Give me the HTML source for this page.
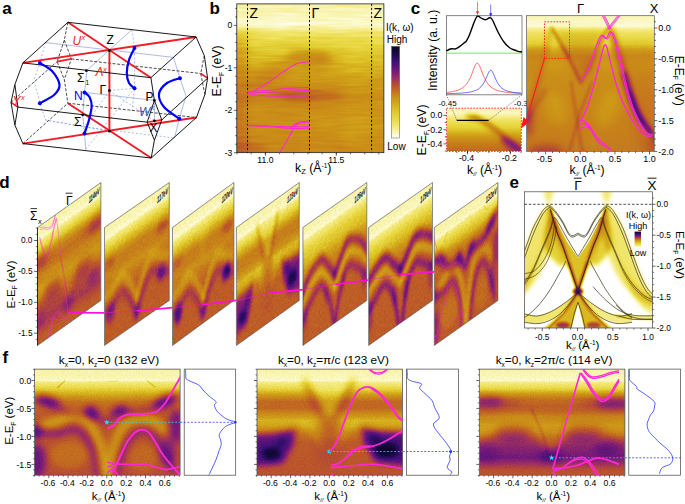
<!DOCTYPE html>
<html><head><meta charset="utf-8"><title>Figure</title>
<style>html,body{margin:0;padding:0;background:#fff;overflow:hidden}svg{display:block;font-family:'Liberation Sans', sans-serif}</style>
</head><body>
<svg width="685" height="504" viewBox="0 0 685 504">
<rect width="685" height="504" fill="#fff"/>
<defs>
<filter id="cmb" color-interpolation-filters="sRGB" filterUnits="userSpaceOnUse" x="0" y="0" width="685" height="504"><feTurbulence type="fractalNoise" baseFrequency="0.03 0.35" numOctaves="2" seed="3" result="n"/><feColorMatrix in="n" type="matrix" values="1 0 0 0 0 1 0 0 0 0 1 0 0 0 0 0 0 0 0 1" result="n2"/><feComposite in="SourceGraphic" in2="n2" operator="arithmetic" k1="0" k2="1" k3="0.09" k4="-0.045" result="s2"/><feComposite in="s2" in2="SourceGraphic" operator="in" result="s3"/><feComponentTransfer in="s3"><feFuncR type="table" tableValues="0.031 0.041 0.050 0.059 0.068 0.077 0.087 0.102 0.122 0.144 0.166 0.187 0.212 0.239 0.269 0.300 0.331 0.362 0.393 0.424 0.456 0.487 0.517 0.548 0.578 0.606 0.630 0.653 0.676 0.698 0.714 0.725 0.734 0.743 0.751 0.760 0.767 0.773 0.778 0.784 0.790 0.795 0.800 0.808 0.816 0.825 0.835 0.846 0.858 0.870 0.882 0.894 0.907 0.918 0.928 0.938 0.947 0.955 0.963 0.971 0.979 0.984 0.990 0.995 1.000"/><feFuncG type="table" tableValues="0.024 0.026 0.028 0.030 0.033 0.035 0.037 0.040 0.043 0.047 0.050 0.053 0.057 0.061 0.066 0.071 0.077 0.083 0.088 0.094 0.099 0.112 0.130 0.148 0.167 0.183 0.201 0.224 0.249 0.273 0.297 0.321 0.344 0.367 0.391 0.415 0.442 0.466 0.490 0.515 0.538 0.557 0.572 0.595 0.622 0.649 0.676 0.706 0.735 0.764 0.790 0.812 0.834 0.853 0.869 0.885 0.899 0.914 0.930 0.945 0.961 0.972 0.982 0.991 1.000"/><feFuncB type="table" tableValues="0.141 0.161 0.180 0.200 0.219 0.239 0.260 0.284 0.311 0.339 0.367 0.396 0.427 0.459 0.477 0.478 0.478 0.478 0.478 0.478 0.478 0.467 0.446 0.424 0.403 0.384 0.357 0.317 0.272 0.227 0.197 0.179 0.166 0.153 0.140 0.128 0.119 0.114 0.108 0.102 0.097 0.095 0.096 0.097 0.099 0.102 0.108 0.123 0.139 0.158 0.184 0.213 0.242 0.282 0.332 0.383 0.429 0.490 0.556 0.623 0.690 0.769 0.847 0.923 1.000"/></feComponentTransfer></filter><filter id="cm" color-interpolation-filters="sRGB" filterUnits="userSpaceOnUse" x="0" y="0" width="685" height="504"><feTurbulence type="fractalNoise" baseFrequency="0.8" numOctaves="2" seed="3" result="n"/><feColorMatrix in="n" type="matrix" values="1 0 0 0 0 1 0 0 0 0 1 0 0 0 0 0 0 0 0 1" result="n2"/><feComposite in="SourceGraphic" in2="n2" operator="arithmetic" k1="0" k2="1" k3="0.03" k4="-0.015" result="s2"/><feComposite in="s2" in2="SourceGraphic" operator="in" result="s3"/><feComponentTransfer in="s3"><feFuncR type="table" tableValues="0.031 0.041 0.050 0.059 0.068 0.077 0.087 0.102 0.122 0.144 0.166 0.187 0.212 0.239 0.269 0.300 0.331 0.362 0.393 0.424 0.456 0.487 0.517 0.548 0.578 0.606 0.630 0.653 0.676 0.698 0.714 0.725 0.734 0.743 0.751 0.760 0.767 0.773 0.778 0.784 0.790 0.795 0.800 0.808 0.816 0.825 0.835 0.846 0.858 0.870 0.882 0.894 0.907 0.918 0.928 0.938 0.947 0.955 0.963 0.971 0.979 0.984 0.990 0.995 1.000"/><feFuncG type="table" tableValues="0.024 0.026 0.028 0.030 0.033 0.035 0.037 0.040 0.043 0.047 0.050 0.053 0.057 0.061 0.066 0.071 0.077 0.083 0.088 0.094 0.099 0.112 0.130 0.148 0.167 0.183 0.201 0.224 0.249 0.273 0.297 0.321 0.344 0.367 0.391 0.415 0.442 0.466 0.490 0.515 0.538 0.557 0.572 0.595 0.622 0.649 0.676 0.706 0.735 0.764 0.790 0.812 0.834 0.853 0.869 0.885 0.899 0.914 0.930 0.945 0.961 0.972 0.982 0.991 1.000"/><feFuncB type="table" tableValues="0.141 0.161 0.180 0.200 0.219 0.239 0.260 0.284 0.311 0.339 0.367 0.396 0.427 0.459 0.477 0.478 0.478 0.478 0.478 0.478 0.478 0.467 0.446 0.424 0.403 0.384 0.357 0.317 0.272 0.227 0.197 0.179 0.166 0.153 0.140 0.128 0.119 0.114 0.108 0.102 0.097 0.095 0.096 0.097 0.099 0.102 0.108 0.123 0.139 0.158 0.184 0.213 0.242 0.282 0.332 0.383 0.429 0.490 0.556 0.623 0.690 0.769 0.847 0.923 1.000"/></feComponentTransfer></filter><filter id="cmn" color-interpolation-filters="sRGB" filterUnits="userSpaceOnUse" x="0" y="0" width="685" height="504"><feTurbulence type="fractalNoise" baseFrequency="0.8" numOctaves="2" seed="3" result="n"/><feColorMatrix in="n" type="matrix" values="1 0 0 0 0 1 0 0 0 0 1 0 0 0 0 0 0 0 0 1" result="n2"/><feComposite in="SourceGraphic" in2="n2" operator="arithmetic" k1="0" k2="1" k3="0.1" k4="-0.05" result="s2"/><feComposite in="s2" in2="SourceGraphic" operator="in" result="s3"/><feComponentTransfer in="s3"><feFuncR type="table" tableValues="0.031 0.041 0.050 0.059 0.068 0.077 0.087 0.102 0.122 0.144 0.166 0.187 0.212 0.239 0.269 0.300 0.331 0.362 0.393 0.424 0.456 0.487 0.517 0.548 0.578 0.606 0.630 0.653 0.676 0.698 0.714 0.725 0.734 0.743 0.751 0.760 0.767 0.773 0.778 0.784 0.790 0.795 0.800 0.808 0.816 0.825 0.835 0.846 0.858 0.870 0.882 0.894 0.907 0.918 0.928 0.938 0.947 0.955 0.963 0.971 0.979 0.984 0.990 0.995 1.000"/><feFuncG type="table" tableValues="0.024 0.026 0.028 0.030 0.033 0.035 0.037 0.040 0.043 0.047 0.050 0.053 0.057 0.061 0.066 0.071 0.077 0.083 0.088 0.094 0.099 0.112 0.130 0.148 0.167 0.183 0.201 0.224 0.249 0.273 0.297 0.321 0.344 0.367 0.391 0.415 0.442 0.466 0.490 0.515 0.538 0.557 0.572 0.595 0.622 0.649 0.676 0.706 0.735 0.764 0.790 0.812 0.834 0.853 0.869 0.885 0.899 0.914 0.930 0.945 0.961 0.972 0.982 0.991 1.000"/><feFuncB type="table" tableValues="0.141 0.161 0.180 0.200 0.219 0.239 0.260 0.284 0.311 0.339 0.367 0.396 0.427 0.459 0.477 0.478 0.478 0.478 0.478 0.478 0.478 0.467 0.446 0.424 0.403 0.384 0.357 0.317 0.272 0.227 0.197 0.179 0.166 0.153 0.140 0.128 0.119 0.114 0.108 0.102 0.097 0.095 0.096 0.097 0.099 0.102 0.108 0.123 0.139 0.158 0.184 0.213 0.242 0.282 0.332 0.383 0.429 0.490 0.556 0.623 0.690 0.769 0.847 0.923 1.000"/></feComponentTransfer></filter><filter id="b0_6" filterUnits="userSpaceOnUse" x="-100" y="-100" width="900" height="750" color-interpolation-filters="sRGB"><feGaussianBlur stdDeviation="0.6"/></filter><filter id="b1" filterUnits="userSpaceOnUse" x="-100" y="-100" width="900" height="750" color-interpolation-filters="sRGB"><feGaussianBlur stdDeviation="1"/></filter><filter id="b1_5" filterUnits="userSpaceOnUse" x="-100" y="-100" width="900" height="750" color-interpolation-filters="sRGB"><feGaussianBlur stdDeviation="1.5"/></filter><filter id="b2" filterUnits="userSpaceOnUse" x="-100" y="-100" width="900" height="750" color-interpolation-filters="sRGB"><feGaussianBlur stdDeviation="2"/></filter><filter id="b2_5" filterUnits="userSpaceOnUse" x="-100" y="-100" width="900" height="750" color-interpolation-filters="sRGB"><feGaussianBlur stdDeviation="2.5"/></filter><filter id="b3" filterUnits="userSpaceOnUse" x="-100" y="-100" width="900" height="750" color-interpolation-filters="sRGB"><feGaussianBlur stdDeviation="3"/></filter><filter id="b3_5" filterUnits="userSpaceOnUse" x="-100" y="-100" width="900" height="750" color-interpolation-filters="sRGB"><feGaussianBlur stdDeviation="3.5"/></filter><filter id="b4" filterUnits="userSpaceOnUse" x="-100" y="-100" width="900" height="750" color-interpolation-filters="sRGB"><feGaussianBlur stdDeviation="4"/></filter><filter id="b5" filterUnits="userSpaceOnUse" x="-100" y="-100" width="900" height="750" color-interpolation-filters="sRGB"><feGaussianBlur stdDeviation="5"/></filter><filter id="b6" filterUnits="userSpaceOnUse" x="-100" y="-100" width="900" height="750" color-interpolation-filters="sRGB"><feGaussianBlur stdDeviation="6"/></filter><filter id="b8" filterUnits="userSpaceOnUse" x="-100" y="-100" width="900" height="750" color-interpolation-filters="sRGB"><feGaussianBlur stdDeviation="8"/></filter><filter id="b10" filterUnits="userSpaceOnUse" x="-100" y="-100" width="900" height="750" color-interpolation-filters="sRGB"><feGaussianBlur stdDeviation="10"/></filter><filter id="b14" filterUnits="userSpaceOnUse" x="-100" y="-100" width="900" height="750" color-interpolation-filters="sRGB"><feGaussianBlur stdDeviation="14"/></filter><linearGradient id="gb" x1="0" y1="0" x2="0" y2="1"><stop offset="0.000" stop-color="#ededed"/><stop offset="0.100" stop-color="#f2f2f2"/><stop offset="0.135" stop-color="#f6f6f6"/><stop offset="0.160" stop-color="#ededed"/><stop offset="0.200" stop-color="#dbdbdb"/><stop offset="0.270" stop-color="#cfcfcf"/><stop offset="0.400" stop-color="#bababa"/><stop offset="0.500" stop-color="#ababab"/><stop offset="0.580" stop-color="#a6a6a6"/><stop offset="0.620" stop-color="#9c9c9c"/><stop offset="0.660" stop-color="#a3a3a3"/><stop offset="0.800" stop-color="#a6a6a6"/><stop offset="1.000" stop-color="#9e9e9e"/></linearGradient><linearGradient id="cbg" x1="0" y1="0" x2="0" y2="1"><stop offset="0.00" stop-color="#080624"/><stop offset="0.05" stop-color="#120939"/><stop offset="0.10" stop-color="#210b52"/><stop offset="0.15" stop-color="#370f6e"/><stop offset="0.20" stop-color="#4f137a"/><stop offset="0.25" stop-color="#69177a"/><stop offset="0.30" stop-color="#822073"/><stop offset="0.35" stop-color="#9b2f62"/><stop offset="0.40" stop-color="#b2453b"/><stop offset="0.45" stop-color="#bd5c28"/><stop offset="0.50" stop-color="#c5751d"/><stop offset="0.55" stop-color="#cb8f18"/><stop offset="0.60" stop-color="#d1a019"/><stop offset="0.65" stop-color="#d7b11e"/><stop offset="0.70" stop-color="#dec428"/><stop offset="0.75" stop-color="#e4d037"/><stop offset="0.80" stop-color="#ebda4a"/><stop offset="0.85" stop-color="#f0e365"/><stop offset="0.90" stop-color="#f5ed8d"/><stop offset="0.95" stop-color="#fbf8c0"/><stop offset="1.00" stop-color="#ffffff"/></linearGradient><clipPath id="cl_b"><rect x="236.8" y="3.9" width="147.1" height="148.8" fill="none" /></clipPath>
<clipPath id="cl_cin"><rect x="446.4" y="15.7" width="75.60000000000002" height="79.1"/></clipPath><linearGradient id="gci" x1="0" y1="0" x2="0" y2="1"><stop offset="0.000" stop-color="#f0f0f0"/><stop offset="0.120" stop-color="#f2f2f2"/><stop offset="0.190" stop-color="#e8e8e8"/><stop offset="0.280" stop-color="#dbdbdb"/><stop offset="0.450" stop-color="#cccccc"/><stop offset="0.620" stop-color="#b2b2b2"/><stop offset="0.800" stop-color="#999999"/><stop offset="1.000" stop-color="#8a8a8a"/></linearGradient><clipPath id="cl_ci"><rect x="446.4" y="108.2" width="75.0" height="43.2" fill="none" /></clipPath><linearGradient id="gcr" x1="0" y1="0" x2="0" y2="1"><stop offset="0.000" stop-color="#f0f0f0"/><stop offset="0.046" stop-color="#f4f4f4"/><stop offset="0.076" stop-color="#f7f7f7"/><stop offset="0.098" stop-color="#e8e8e8"/><stop offset="0.127" stop-color="#dbdbdb"/><stop offset="0.209" stop-color="#d1d1d1"/><stop offset="0.253" stop-color="#b8b8b8"/><stop offset="0.297" stop-color="#a8a8a8"/><stop offset="0.356" stop-color="#adadad"/><stop offset="0.474" stop-color="#a3a3a3"/><stop offset="0.621" stop-color="#9e9e9e"/><stop offset="1.000" stop-color="#969696"/></linearGradient><clipPath id="cl_cr"><rect x="526.6" y="15.7" width="127.7" height="135.7" fill="none" /></clipPath>
<linearGradient id="gi132" x1="0" y1="0" x2="0" y2="1"><stop offset="0.000" stop-color="#ededed"/><stop offset="0.084" stop-color="#f0f0f0"/><stop offset="0.105" stop-color="#f4f4f4"/><stop offset="0.126" stop-color="#e3e3e3"/><stop offset="0.169" stop-color="#d5d5d5"/><stop offset="0.237" stop-color="#b6b6b6"/><stop offset="0.305" stop-color="#8f8f8f"/><stop offset="0.421" stop-color="#828282"/><stop offset="0.632" stop-color="#7d7d7d"/><stop offset="1.001" stop-color="#787878"/></linearGradient><clipPath id="cl_i132"><rect x="0.0" y="0.0" width="145.6" height="106.2" fill="none" /></clipPath><g id="img132"><g clip-path="url(#cl_i132)"><g filter="url(#cmn)"><rect x="0" y="0" width="145.6" height="106.15" fill="url(#gi132)"/><g filter="url(#b3)"><path d="M4.6,57.1 C7.3,56.4 15.7,54.5 20.6,53.0 C25.6,51.5 30.1,48.8 34.3,48.0 C38.5,47.1 42.3,46.9 45.7,48.0 C49.2,49.0 52.2,51.0 54.9,54.1 C57.5,57.2 59.8,61.9 61.7,66.7 C63.6,71.4 65.1,76.2 66.3,82.7 C67.5,89.1 68.6,101.7 69.0,105.5" fill="none" stroke="#fff" stroke-opacity="0.368" stroke-width="9" stroke-linecap="round" stroke-linejoin="round"/><path d="M75.9,105.5 C76.4,101.7 77.4,89.5 78.8,82.7 C80.3,75.8 82.1,69.3 84.5,64.4 C87.0,59.4 90.2,55.5 93.7,53.0 C97.1,50.5 100.9,49.7 105.1,49.6 C109.3,49.4 114.8,50.1 118.8,51.8 C122.8,53.5 127.3,58.5 129.1,59.8" fill="none" stroke="#fff" stroke-opacity="0.336" stroke-width="9" stroke-linecap="round" stroke-linejoin="round"/><ellipse cx="34.3" cy="86.1" rx="19.4" ry="13.7" fill="#fff" fill-opacity="0.144"/><ellipse cx="108.5" cy="89.5" rx="14.8" ry="14.8" fill="#fff" fill-opacity="0.112"/><ellipse cx="72.0" cy="87.2" rx="3.2" ry="20.5" fill="#fff" fill-opacity="0.160"/><ellipse cx="72.0" cy="30.1" rx="27.4" ry="6.4" fill="#fff" fill-opacity="0.064"/></g><g filter="url(#b3)"><path d="M0.1,30.1 C2.3,30.5 9.6,30.9 13.8,32.4 C18.0,34.0 21.4,37.3 25.2,39.3 C29.0,41.3 32.8,43.6 36.6,44.5 C40.4,45.5 44.6,45.1 48.0,45.0 C51.4,44.9 54.5,43.1 57.1,43.8 C59.8,44.6 61.5,48.0 64.0,49.6 C66.5,51.2 69.5,53.8 72.0,53.4 C74.5,53.1 76.6,49.2 78.8,47.3 C81.1,45.3 82.4,42.3 85.7,41.6 C88.9,40.8 93.5,42.9 98.2,42.7 C103.0,42.5 108.9,42.1 114.2,40.4 C119.5,38.7 125.0,34.9 130.2,32.4 C135.4,30.0 143.0,26.7 145.5,25.6" fill="none" stroke="#000" stroke-opacity="0.22" stroke-width="7" stroke-linecap="round" stroke-linejoin="round"/><path d="M0.1,62.1 C3.9,62.5 16.4,64.8 22.9,64.4 C29.4,64.0 34.3,59.4 38.9,59.8 C43.4,60.2 46.9,62.9 50.3,66.7 C53.7,70.5 57.1,76.0 59.4,82.7 C61.7,89.3 63.2,102.6 64.0,106.6" fill="none" stroke="#000" stroke-opacity="0.3" stroke-width="7" stroke-linecap="round" stroke-linejoin="round"/><path d="M81.8,106.6 C82.6,103.4 84.5,93.5 86.8,87.2 C89.2,80.9 92.5,73.1 96.0,69.0 C99.4,64.8 103.6,62.5 107.4,62.1 C111.2,61.7 115.0,63.3 118.8,66.7 C122.6,70.1 127.0,77.0 130.2,82.7 C133.4,88.4 136.9,97.9 138.2,100.9" fill="none" stroke="#000" stroke-opacity="0.26" stroke-width="7" stroke-linecap="round" stroke-linejoin="round"/></g><g filter="url(#b3_5)"><ellipse cx="13.3" cy="32.4" rx="12.6" ry="5.9" fill="#000" fill-opacity="0.420" transform="rotate(18 13.3 32.4)"/><ellipse cx="57.1" cy="43.8" rx="6.4" ry="8.2" fill="#000" fill-opacity="0.420" transform="rotate(-30 57.1 43.8)"/><ellipse cx="85.7" cy="41.6" rx="8.2" ry="5.9" fill="#000" fill-opacity="0.360" transform="rotate(-15 85.7 41.6)"/><ellipse cx="130.7" cy="32.4" rx="12.6" ry="6.4" fill="#000" fill-opacity="0.420" transform="rotate(-25 130.7 32.4)"/><ellipse cx="1.9" cy="61.0" rx="6.4" ry="8.7" fill="#000" fill-opacity="0.400"/><ellipse cx="2.3" cy="91.8" rx="8.7" ry="17.1" fill="#000" fill-opacity="0.380"/><ellipse cx="141.6" cy="56.4" rx="6.8" ry="17.1" fill="#000" fill-opacity="0.380"/><ellipse cx="133.2" cy="82.7" rx="8.2" ry="13.2" fill="#000" fill-opacity="0.280"/></g><g filter="url(#b0_6)"><path d="M30.2,11.9 L22.9,18.7" fill="none" stroke="#000" stroke-opacity="0.15" stroke-width="1.2" stroke-linecap="round" stroke-linejoin="round"/><path d="M113.1,11.9 L120.4,18.0" fill="none" stroke="#000" stroke-opacity="0.15" stroke-width="1.2" stroke-linecap="round" stroke-linejoin="round"/><path d="M73.1,12.3 L81.1,12.3 L83.4,11.2" fill="none" stroke="#000" stroke-opacity="0.08" stroke-width="1.0" stroke-linecap="round" stroke-linejoin="round"/></g></g></g></g><linearGradient id="gi123" x1="0" y1="0" x2="0" y2="1"><stop offset="0.000" stop-color="#ededed"/><stop offset="0.084" stop-color="#f2f2f2"/><stop offset="0.105" stop-color="#f5f5f5"/><stop offset="0.126" stop-color="#e6e6e6"/><stop offset="0.184" stop-color="#d1d1d1"/><stop offset="0.253" stop-color="#a7a7a7"/><stop offset="0.305" stop-color="#8a8a8a"/><stop offset="0.369" stop-color="#8a8a8a"/><stop offset="0.432" stop-color="#a6a6a6"/><stop offset="0.484" stop-color="#bababa"/><stop offset="0.537" stop-color="#b2b2b2"/><stop offset="0.606" stop-color="#949494"/><stop offset="0.685" stop-color="#828282"/><stop offset="1.001" stop-color="#7d7d7d"/></linearGradient><clipPath id="cl_i123"><rect x="0.0" y="0.0" width="145.6" height="106.2" fill="none" /></clipPath><g id="img123"><g clip-path="url(#cl_i123)"><g filter="url(#cmn)"><rect x="0" y="0" width="145.6" height="106.15" fill="url(#gi123)"/><g filter="url(#b3)"><polygon points="54.8,16.4 90.4,16.4 75.4,48.4 69.9,48.4" fill="#fff" fill-opacity="0.336"/><path d="M44.1,53.0 C45.8,54.1 51.1,56.2 54.4,59.8 C57.6,63.4 62.0,72.2 63.5,74.7" fill="none" stroke="#fff" stroke-opacity="0.176" stroke-width="6" stroke-linecap="round" stroke-linejoin="round"/><path d="M101.2,53.0 C99.5,54.1 94.1,56.2 90.9,59.8 C87.7,63.4 83.3,72.2 81.8,74.7" fill="none" stroke="#fff" stroke-opacity="0.176" stroke-width="6" stroke-linecap="round" stroke-linejoin="round"/></g><g filter="url(#b3)"><ellipse cx="72.6" cy="54.1" rx="10.3" ry="9.1" fill="#000" fill-opacity="0.220"/><ellipse cx="72.6" cy="80.4" rx="16.0" ry="16.0" fill="#000" fill-opacity="0.060"/><path d="M48.0,12.3 L55.5,30.1 L63.5,46.6" fill="none" stroke="#000" stroke-opacity="0.2" stroke-width="5.5" stroke-linecap="round" stroke-linejoin="round"/><path d="M95.9,12.3 L88.2,30.1 L79.9,45.7" fill="none" stroke="#000" stroke-opacity="0.2" stroke-width="5.5" stroke-linecap="round" stroke-linejoin="round"/><polygon points="-5.0,65.5 15.5,64.4 39.5,59.4 36.1,75.8 25.8,94.1 -5.0,97.5" fill="#000" fill-opacity="0.500"/><polygon points="150.3,63.3 122.9,62.1 103.4,58.0 108.0,75.8 119.4,92.9 150.3,96.4" fill="#000" fill-opacity="0.550"/></g><g filter="url(#b3)"><ellipse cx="14.4" cy="84.5" rx="9.6" ry="5.9" fill="#000" fill-opacity="0.850"/><ellipse cx="24.7" cy="73.5" rx="6.8" ry="3.7" fill="#000" fill-opacity="0.425" transform="rotate(-35 24.7 73.5)"/><ellipse cx="129.7" cy="80.8" rx="11.4" ry="6.8" fill="#000" fill-opacity="0.901"/><ellipse cx="118.3" cy="70.1" rx="7.3" ry="3.7" fill="#000" fill-opacity="0.510" transform="rotate(35 118.3 70.1)"/></g></g></g></g><linearGradient id="gi114" x1="0" y1="0" x2="0" y2="1"><stop offset="0.000" stop-color="#ededed"/><stop offset="0.084" stop-color="#f2f2f2"/><stop offset="0.105" stop-color="#f5f5f5"/><stop offset="0.126" stop-color="#e6e6e6"/><stop offset="0.184" stop-color="#d1d1d1"/><stop offset="0.237" stop-color="#a9a9a9"/><stop offset="0.290" stop-color="#828282"/><stop offset="0.342" stop-color="#787878"/><stop offset="0.395" stop-color="#858585"/><stop offset="0.448" stop-color="#9c9c9c"/><stop offset="0.527" stop-color="#a1a1a1"/><stop offset="0.590" stop-color="#8f8f8f"/><stop offset="0.658" stop-color="#707070"/><stop offset="0.737" stop-color="#5c5c5c"/><stop offset="0.832" stop-color="#4f4f4f"/><stop offset="0.895" stop-color="#666666"/><stop offset="0.948" stop-color="#7a7a7a"/><stop offset="1.001" stop-color="#808080"/></linearGradient><clipPath id="cl_i114"><rect x="0.0" y="0.0" width="145.6" height="106.2" fill="none" /></clipPath><g id="img114"><g clip-path="url(#cl_i114)"><g filter="url(#cmn)"><rect x="0" y="0" width="145.6" height="106.15" fill="url(#gi114)"/><g filter="url(#b3_5)"><polygon points="50.6,54.1 91.7,54.1 81.5,72.4 71.2,83.8 59.8,72.4" fill="#fff" fill-opacity="0.192"/><polygon points="-5.3,54.1 21.0,54.1 9.5,66.7 -5.3,72.4" fill="#fff" fill-opacity="0.240"/><polygon points="150.0,54.1 121.4,54.1 134.0,66.7 150.0,72.4" fill="#fff" fill-opacity="0.176"/><ellipse cx="70.0" cy="33.6" rx="34.2" ry="6.4" fill="#fff" fill-opacity="0.112"/><ellipse cx="40.4" cy="48.4" rx="25.1" ry="5.0" fill="#fff" fill-opacity="0.080"/></g><g filter="url(#b3_5)"><ellipse cx="9.5" cy="32.4" rx="14.8" ry="5.5" fill="#000" fill-opacity="0.300"/><ellipse cx="134.0" cy="34.3" rx="18.3" ry="5.9" fill="#000" fill-opacity="0.300"/><ellipse cx="33.5" cy="65.5" rx="16.0" ry="7.3" fill="#000" fill-opacity="0.200"/><ellipse cx="104.3" cy="65.5" rx="17.1" ry="7.3" fill="#000" fill-opacity="0.200"/><ellipse cx="71.2" cy="87.2" rx="11.4" ry="5.9" fill="#000" fill-opacity="0.300"/><ellipse cx="127.1" cy="79.2" rx="12.6" ry="6.8" fill="#000" fill-opacity="0.220"/><ellipse cx="8.4" cy="84.9" rx="11.4" ry="9.1" fill="#000" fill-opacity="0.120"/></g><g filter="url(#b1)"><path d="M51.8,39.3 C53.7,43.5 60.5,57.0 63.2,64.4 C65.9,71.8 67.4,80.6 68.2,83.8" fill="none" stroke="#000" stroke-opacity="0.2" stroke-width="1.6" stroke-linecap="round" stroke-linejoin="round"/><path d="M86.0,48.4 L78.0,69.0" fill="none" stroke="#000" stroke-opacity="0.1" stroke-width="1.6" stroke-linecap="round" stroke-linejoin="round"/></g></g></g></g><clipPath id="cl_f0"><rect x="34.5" y="369.1" width="145.6" height="106.14999999999998"/></clipPath><clipPath id="cl_f1"><rect x="257.0" y="369.1" width="145.6" height="106.14999999999998"/></clipPath><clipPath id="cl_f2"><rect x="479.3" y="369.1" width="145.6" height="106.14999999999998"/></clipPath>
<filter id="cmd" color-interpolation-filters="sRGB" filterUnits="userSpaceOnUse" x="0" y="0" width="685" height="504"><feTurbulence type="fractalNoise" baseFrequency="0.8" numOctaves="2" seed="3" result="n"/><feColorMatrix in="n" type="matrix" values="1 0 0 0 0 1 0 0 0 0 1 0 0 0 0 0 0 0 0 1" result="n2"/><feComposite in="SourceGraphic" in2="n2" operator="arithmetic" k1="0" k2="1" k3="0.16" k4="-0.08" result="s2"/><feComposite in="s2" in2="SourceGraphic" operator="in" result="s3"/><feComponentTransfer in="s3"><feFuncR type="table" tableValues="0.031 0.041 0.050 0.059 0.068 0.077 0.087 0.102 0.122 0.144 0.166 0.187 0.212 0.239 0.269 0.300 0.331 0.362 0.393 0.424 0.456 0.487 0.517 0.548 0.578 0.606 0.630 0.653 0.676 0.698 0.714 0.725 0.734 0.743 0.751 0.760 0.767 0.773 0.778 0.784 0.790 0.795 0.800 0.808 0.816 0.825 0.835 0.846 0.858 0.870 0.882 0.894 0.907 0.918 0.928 0.938 0.947 0.955 0.963 0.971 0.979 0.984 0.990 0.995 1.000"/><feFuncG type="table" tableValues="0.024 0.026 0.028 0.030 0.033 0.035 0.037 0.040 0.043 0.047 0.050 0.053 0.057 0.061 0.066 0.071 0.077 0.083 0.088 0.094 0.099 0.112 0.130 0.148 0.167 0.183 0.201 0.224 0.249 0.273 0.297 0.321 0.344 0.367 0.391 0.415 0.442 0.466 0.490 0.515 0.538 0.557 0.572 0.595 0.622 0.649 0.676 0.706 0.735 0.764 0.790 0.812 0.834 0.853 0.869 0.885 0.899 0.914 0.930 0.945 0.961 0.972 0.982 0.991 1.000"/><feFuncB type="table" tableValues="0.141 0.161 0.180 0.200 0.219 0.239 0.260 0.284 0.311 0.339 0.367 0.396 0.427 0.459 0.477 0.478 0.478 0.478 0.478 0.478 0.478 0.467 0.446 0.424 0.403 0.384 0.357 0.317 0.272 0.227 0.197 0.179 0.166 0.153 0.140 0.128 0.119 0.114 0.108 0.102 0.097 0.095 0.096 0.097 0.099 0.102 0.108 0.123 0.139 0.158 0.184 0.213 0.242 0.282 0.332 0.383 0.429 0.490 0.556 0.623 0.690 0.769 0.847 0.923 1.000"/></feComponentTransfer></filter><linearGradient id="gi114d" x1="0" y1="0" x2="0" y2="1"><stop offset="0.000" stop-color="#ededed"/><stop offset="0.084" stop-color="#f2f2f2"/><stop offset="0.105" stop-color="#f5f5f5"/><stop offset="0.126" stop-color="#e6e6e6"/><stop offset="0.184" stop-color="#d1d1d1"/><stop offset="0.237" stop-color="#b3b3b3"/><stop offset="0.290" stop-color="#919191"/><stop offset="0.342" stop-color="#888888"/><stop offset="0.395" stop-color="#939393"/><stop offset="0.448" stop-color="#9e9e9e"/><stop offset="0.527" stop-color="#a3a3a3"/><stop offset="0.590" stop-color="#919191"/><stop offset="0.658" stop-color="#7d7d7d"/><stop offset="0.737" stop-color="#737373"/><stop offset="0.832" stop-color="#6c6c6c"/><stop offset="0.895" stop-color="#787878"/><stop offset="0.948" stop-color="#828282"/><stop offset="1.001" stop-color="#858585"/></linearGradient><clipPath id="cl_i114d"><rect x="0.0" y="0.0" width="145.6" height="106.2" fill="none" /></clipPath><g id="img114d"><g clip-path="url(#cl_i114d)"><g filter="url(#cmd)"><rect x="0" y="0" width="145.6" height="106.15" fill="url(#gi114d)"/><g filter="url(#b3_5)"><polygon points="50.6,54.1 91.7,54.1 81.5,72.4 71.2,83.8 59.8,72.4" fill="#fff" fill-opacity="0.144"/><polygon points="-5.3,54.1 21.0,54.1 9.5,66.7 -5.3,72.4" fill="#fff" fill-opacity="0.180"/><polygon points="150.0,54.1 121.4,54.1 134.0,66.7 150.0,72.4" fill="#fff" fill-opacity="0.132"/><ellipse cx="70.0" cy="33.6" rx="34.2" ry="6.4" fill="#fff" fill-opacity="0.084"/><ellipse cx="40.4" cy="48.4" rx="25.1" ry="5.0" fill="#fff" fill-opacity="0.060"/></g><g filter="url(#b3_5)"><ellipse cx="9.5" cy="32.4" rx="14.8" ry="5.5" fill="#000" fill-opacity="0.216"/><ellipse cx="134.0" cy="34.3" rx="18.3" ry="5.9" fill="#000" fill-opacity="0.216"/><ellipse cx="33.5" cy="65.5" rx="16.0" ry="7.3" fill="#000" fill-opacity="0.144"/><ellipse cx="104.3" cy="65.5" rx="17.1" ry="7.3" fill="#000" fill-opacity="0.144"/><ellipse cx="71.2" cy="87.2" rx="11.4" ry="5.9" fill="#000" fill-opacity="0.216"/><ellipse cx="127.1" cy="79.2" rx="12.6" ry="6.8" fill="#000" fill-opacity="0.158"/><ellipse cx="8.4" cy="84.9" rx="11.4" ry="9.1" fill="#000" fill-opacity="0.086"/></g><g filter="url(#b1)"><path d="M51.8,39.3 C53.7,43.5 60.5,57.0 63.2,64.4 C65.9,71.8 67.4,80.6 68.2,83.8" fill="none" stroke="#000" stroke-opacity="0.144" stroke-width="1.6" stroke-linecap="round" stroke-linejoin="round"/><path d="M86.0,48.4 L78.0,69.0" fill="none" stroke="#000" stroke-opacity="0.072" stroke-width="1.6" stroke-linecap="round" stroke-linejoin="round"/></g></g></g></g><linearGradient id="gi117d" x1="0" y1="0" x2="0" y2="1"><stop offset="0.000" stop-color="#ededed"/><stop offset="0.084" stop-color="#f2f2f2"/><stop offset="0.105" stop-color="#f5f5f5"/><stop offset="0.126" stop-color="#e6e6e6"/><stop offset="0.184" stop-color="#d1d1d1"/><stop offset="0.253" stop-color="#b4b4b4"/><stop offset="0.316" stop-color="#989898"/><stop offset="0.379" stop-color="#989898"/><stop offset="0.448" stop-color="#9c9c9c"/><stop offset="0.527" stop-color="#969696"/><stop offset="0.632" stop-color="#878787"/><stop offset="0.737" stop-color="#828282"/><stop offset="1.001" stop-color="#838383"/></linearGradient><clipPath id="cl_i117d"><rect x="0.0" y="0.0" width="145.6" height="106.2" fill="none" /></clipPath><g id="img117d"><g clip-path="url(#cl_i117d)"><g filter="url(#cmd)"><rect x="0" y="0" width="145.6" height="106.15" fill="url(#gi117d)"/><g filter="url(#b2_5)"><path d="M-9.9,66.0 C-5.9,65.2 7.8,63.2 14.2,61.5 C20.7,59.8 24.4,57.1 28.8,55.9 C33.1,54.7 36.3,53.3 40.4,54.2 C44.4,55.2 48.9,58.2 52.9,61.5 C57.0,64.8 61.3,70.2 64.6,73.8 C67.8,77.3 71.0,81.2 72.3,82.7" fill="none" stroke="#fff" stroke-opacity="0.216" stroke-width="9" stroke-linecap="round" stroke-linejoin="round"/><path d="M154.5,66.0 C150.5,65.2 136.8,63.2 130.3,61.5 C123.9,59.8 120.2,57.1 115.8,55.9 C111.5,54.7 108.3,53.3 104.2,54.2 C100.2,55.2 95.7,58.2 91.7,61.5 C87.6,64.8 83.3,70.2 80.0,73.8 C76.8,77.3 73.6,81.2 72.3,82.7" fill="none" stroke="#fff" stroke-opacity="0.216" stroke-width="9" stroke-linecap="round" stroke-linejoin="round"/><ellipse cx="72.3" cy="49.2" rx="53.2" ry="3.9" fill="#fff" fill-opacity="0.108"/></g><g filter="url(#b3)"><path d="M-9.9,81.1 C-5.9,80.3 7.8,78.3 14.2,76.6 C20.7,74.9 24.4,72.2 28.8,71.0 C33.1,69.8 36.3,68.4 40.4,69.3 C44.4,70.2 48.9,73.3 52.9,76.6 C57.0,79.8 61.3,85.3 64.6,88.9 C67.8,92.4 71.0,96.3 72.3,97.8" fill="none" stroke="#000" stroke-opacity="0.216" stroke-width="8" stroke-linecap="round" stroke-linejoin="round"/><path d="M154.5,81.1 C150.5,80.3 136.8,78.3 130.3,76.6 C123.9,74.9 120.2,72.2 115.8,71.0 C111.5,69.8 108.3,68.4 104.2,69.3 C100.2,70.2 95.7,73.3 91.7,76.6 C87.6,79.8 83.3,85.3 80.0,88.9 C76.8,92.4 73.6,96.3 72.3,97.8" fill="none" stroke="#000" stroke-opacity="0.216" stroke-width="8" stroke-linecap="round" stroke-linejoin="round"/><ellipse cx="130.3" cy="34.7" rx="13.5" ry="3.9" fill="#000" fill-opacity="0.252"/><ellipse cx="12.3" cy="34.7" rx="11.6" ry="3.9" fill="#000" fill-opacity="0.176"/><ellipse cx="127.4" cy="75.5" rx="10.6" ry="7.3" fill="#000" fill-opacity="0.324"/><ellipse cx="14.2" cy="81.1" rx="9.7" ry="8.9" fill="#000" fill-opacity="0.274"/><ellipse cx="72.3" cy="95.0" rx="9.7" ry="6.7" fill="#000" fill-opacity="0.180"/></g></g></g></g><linearGradient id="gi120d" x1="0" y1="0" x2="0" y2="1"><stop offset="0.000" stop-color="#ededed"/><stop offset="0.084" stop-color="#f2f2f2"/><stop offset="0.105" stop-color="#f5f5f5"/><stop offset="0.126" stop-color="#e6e6e6"/><stop offset="0.184" stop-color="#d1d1d1"/><stop offset="0.253" stop-color="#b4b4b4"/><stop offset="0.316" stop-color="#989898"/><stop offset="0.379" stop-color="#989898"/><stop offset="0.448" stop-color="#9c9c9c"/><stop offset="0.527" stop-color="#969696"/><stop offset="0.632" stop-color="#878787"/><stop offset="0.737" stop-color="#828282"/><stop offset="1.001" stop-color="#838383"/></linearGradient><clipPath id="cl_i120d"><rect x="0.0" y="0.0" width="145.6" height="106.2" fill="none" /></clipPath><g id="img120d"><g clip-path="url(#cl_i120d)"><g filter="url(#cmd)"><rect x="0" y="0" width="145.6" height="106.15" fill="url(#gi120d)"/><g filter="url(#b2_5)"><path d="M-9.9,66.0 C-5.9,65.2 7.8,63.2 14.2,61.5 C20.7,59.8 24.4,57.1 28.8,55.9 C33.1,54.7 36.3,53.3 40.4,54.2 C44.4,55.2 48.9,58.2 52.9,61.5 C57.0,64.8 61.3,70.2 64.6,73.8 C67.8,77.3 71.0,81.2 72.3,82.7" fill="none" stroke="#fff" stroke-opacity="0.216" stroke-width="9" stroke-linecap="round" stroke-linejoin="round"/><path d="M154.5,66.0 C150.5,65.2 136.8,63.2 130.3,61.5 C123.9,59.8 120.2,57.1 115.8,55.9 C111.5,54.7 108.3,53.3 104.2,54.2 C100.2,55.2 95.7,58.2 91.7,61.5 C87.6,64.8 83.3,70.2 80.0,73.8 C76.8,77.3 73.6,81.2 72.3,82.7" fill="none" stroke="#fff" stroke-opacity="0.216" stroke-width="9" stroke-linecap="round" stroke-linejoin="round"/><ellipse cx="72.3" cy="49.2" rx="53.2" ry="3.9" fill="#fff" fill-opacity="0.108"/><polygon points="52.9,16.8 91.7,16.8 75.2,44.7 69.4,44.7" fill="#fff" fill-opacity="0.090"/></g><g filter="url(#b3)"><path d="M-9.9,81.1 C-5.9,80.3 7.8,78.3 14.2,76.6 C20.7,74.9 24.4,72.2 28.8,71.0 C33.1,69.8 36.3,68.4 40.4,69.3 C44.4,70.2 48.9,73.3 52.9,76.6 C57.0,79.8 61.3,85.3 64.6,88.9 C67.8,92.4 71.0,96.3 72.3,97.8" fill="none" stroke="#000" stroke-opacity="0.202" stroke-width="8" stroke-linecap="round" stroke-linejoin="round"/><path d="M154.5,81.1 C150.5,80.3 136.8,78.3 130.3,76.6 C123.9,74.9 120.2,72.2 115.8,71.0 C111.5,69.8 108.3,68.4 104.2,69.3 C100.2,70.2 95.7,73.3 91.7,76.6 C87.6,79.8 83.3,85.3 80.0,88.9 C76.8,92.4 73.6,96.3 72.3,97.8" fill="none" stroke="#000" stroke-opacity="0.202" stroke-width="8" stroke-linecap="round" stroke-linejoin="round"/><ellipse cx="130.3" cy="34.7" rx="13.5" ry="3.9" fill="#000" fill-opacity="0.230"/><ellipse cx="12.3" cy="34.7" rx="11.6" ry="3.9" fill="#000" fill-opacity="0.161"/><ellipse cx="127.4" cy="75.5" rx="10.6" ry="7.3" fill="#000" fill-opacity="0.468"/><ellipse cx="14.2" cy="81.1" rx="9.7" ry="8.9" fill="#000" fill-opacity="0.396"/><ellipse cx="72.3" cy="95.0" rx="9.7" ry="6.7" fill="#000" fill-opacity="0.180"/></g><g filter="url(#b2_5)"><ellipse cx="130.3" cy="74.3" rx="5.8" ry="3.9" fill="#000" fill-opacity="0.432"/><ellipse cx="12.3" cy="83.8" rx="4.8" ry="5.0" fill="#000" fill-opacity="0.252"/></g></g></g></g><linearGradient id="gi123d" x1="0" y1="0" x2="0" y2="1"><stop offset="0.000" stop-color="#ededed"/><stop offset="0.084" stop-color="#f2f2f2"/><stop offset="0.105" stop-color="#f5f5f5"/><stop offset="0.126" stop-color="#e6e6e6"/><stop offset="0.184" stop-color="#d1d1d1"/><stop offset="0.253" stop-color="#b2b2b2"/><stop offset="0.305" stop-color="#989898"/><stop offset="0.369" stop-color="#989898"/><stop offset="0.432" stop-color="#a8a8a8"/><stop offset="0.484" stop-color="#bdbdbd"/><stop offset="0.537" stop-color="#b5b5b5"/><stop offset="0.606" stop-color="#969696"/><stop offset="0.685" stop-color="#868686"/><stop offset="1.001" stop-color="#838383"/></linearGradient><clipPath id="cl_i123d"><rect x="0.0" y="0.0" width="145.6" height="106.2" fill="none" /></clipPath><g id="img123d"><g clip-path="url(#cl_i123d)"><g filter="url(#cmd)"><rect x="0" y="0" width="145.6" height="106.15" fill="url(#gi123d)"/><g filter="url(#b3)"><polygon points="54.8,16.4 90.4,16.4 75.4,48.4 69.9,48.4" fill="#fff" fill-opacity="0.252"/><path d="M44.1,53.0 C45.8,54.1 51.1,56.2 54.4,59.8 C57.6,63.4 62.0,72.2 63.5,74.7" fill="none" stroke="#fff" stroke-opacity="0.132" stroke-width="6" stroke-linecap="round" stroke-linejoin="round"/><path d="M101.2,53.0 C99.5,54.1 94.1,56.2 90.9,59.8 C87.7,63.4 83.3,72.2 81.8,74.7" fill="none" stroke="#fff" stroke-opacity="0.132" stroke-width="6" stroke-linecap="round" stroke-linejoin="round"/></g><g filter="url(#b3)"><ellipse cx="72.6" cy="54.1" rx="10.3" ry="9.1" fill="#000" fill-opacity="0.158"/><ellipse cx="72.6" cy="80.4" rx="16.0" ry="16.0" fill="#000" fill-opacity="0.043"/><path d="M48.0,12.3 L55.5,30.1 L63.5,46.6" fill="none" stroke="#000" stroke-opacity="0.144" stroke-width="5.5" stroke-linecap="round" stroke-linejoin="round"/><path d="M95.9,12.3 L88.2,30.1 L79.9,45.7" fill="none" stroke="#000" stroke-opacity="0.144" stroke-width="5.5" stroke-linecap="round" stroke-linejoin="round"/><polygon points="-5.0,65.5 15.5,64.4 39.5,59.4 36.1,75.8 25.8,94.1 -5.0,97.5" fill="#000" fill-opacity="0.360"/><polygon points="150.3,63.3 122.9,62.1 103.4,58.0 108.0,75.8 119.4,92.9 150.3,96.4" fill="#000" fill-opacity="0.396"/></g><g filter="url(#b3)"><ellipse cx="14.4" cy="84.5" rx="9.6" ry="5.9" fill="#000" fill-opacity="0.612"/><ellipse cx="24.7" cy="73.5" rx="6.8" ry="3.7" fill="#000" fill-opacity="0.306" transform="rotate(-35 24.7 73.5)"/><ellipse cx="129.7" cy="80.8" rx="11.4" ry="6.8" fill="#000" fill-opacity="0.649"/><ellipse cx="118.3" cy="70.1" rx="7.3" ry="3.7" fill="#000" fill-opacity="0.367" transform="rotate(35 118.3 70.1)"/></g></g></g></g><linearGradient id="gi126d" x1="0" y1="0" x2="0" y2="1"><stop offset="0.000" stop-color="#ededed"/><stop offset="0.084" stop-color="#f2f2f2"/><stop offset="0.105" stop-color="#f5f5f5"/><stop offset="0.126" stop-color="#e6e6e6"/><stop offset="0.211" stop-color="#cfcfcf"/><stop offset="0.316" stop-color="#bcbcbc"/><stop offset="0.421" stop-color="#9e9e9e"/><stop offset="0.579" stop-color="#8c8c8c"/><stop offset="0.790" stop-color="#858585"/><stop offset="1.001" stop-color="#838383"/></linearGradient><clipPath id="cl_i126d"><rect x="0.0" y="0.0" width="145.6" height="106.2" fill="none" /></clipPath><g id="img126d"><g clip-path="url(#cl_i126d)"><g filter="url(#cmd)"><rect x="0" y="0" width="145.6" height="106.15" fill="url(#gi126d)"/><g filter="url(#b2_5)"><path d="M-7.0,75.5 C-4.0,72.9 5.4,64.1 11.3,60.4 C17.3,56.6 23.4,54.6 28.8,53.1 C34.1,51.6 38.4,50.0 43.3,51.4 C48.1,52.8 52.9,57.8 57.8,61.5 C62.6,65.2 69.9,71.7 72.3,73.8" fill="none" stroke="#fff" stroke-opacity="0.3" stroke-width="7" stroke-linecap="round" stroke-linejoin="round"/><path d="M151.6,75.5 C148.6,72.9 139.2,64.1 133.3,60.4 C127.3,56.6 121.2,54.6 115.8,53.1 C110.5,51.6 106.2,50.0 101.3,51.4 C96.5,52.8 91.7,57.8 86.8,61.5 C82.0,65.2 74.7,71.7 72.3,73.8" fill="none" stroke="#fff" stroke-opacity="0.3" stroke-width="7" stroke-linecap="round" stroke-linejoin="round"/></g><g filter="url(#b3)"><path d="M-7.0,64.3 C-4.0,61.8 5.4,52.9 11.3,49.2 C17.3,45.5 23.4,43.4 28.8,41.9 C34.1,40.4 38.4,38.9 43.3,40.2 C48.1,41.6 52.9,46.6 57.8,50.3 C62.6,54.0 69.9,60.6 72.3,62.6" fill="none" stroke="#000" stroke-opacity="0.396" stroke-width="8" stroke-linecap="round" stroke-linejoin="round"/><path d="M151.6,64.3 C148.6,61.8 139.2,52.9 133.3,49.2 C127.3,45.5 121.2,43.4 115.8,41.9 C110.5,40.4 106.2,38.9 101.3,40.2 C96.5,41.6 91.7,46.6 86.8,50.3 C82.0,54.0 74.7,60.6 72.3,62.6" fill="none" stroke="#000" stroke-opacity="0.396" stroke-width="8" stroke-linecap="round" stroke-linejoin="round"/><path d="M-7.0,89.4 C-3.5,86.8 7.8,77.8 14.2,73.8 C20.7,69.8 26.8,67.0 31.7,65.4 C36.5,63.8 39.4,62.9 43.3,64.3 C47.1,65.7 51.3,69.6 54.9,73.8 C58.4,78.0 62.0,84.0 64.6,89.4 C67.1,94.8 69.4,103.4 70.4,106.2" fill="none" stroke="#000" stroke-opacity="0.324" stroke-width="7" stroke-linecap="round" stroke-linejoin="round"/><path d="M151.6,89.4 C148.1,86.8 136.8,77.8 130.3,73.8 C123.9,69.8 117.8,67.0 112.9,65.4 C108.1,63.8 105.2,62.9 101.3,64.3 C97.5,65.7 93.3,69.6 89.7,73.8 C86.2,78.0 82.6,84.0 80.0,89.4 C77.5,94.8 75.2,103.4 74.2,106.2" fill="none" stroke="#000" stroke-opacity="0.324" stroke-width="7" stroke-linecap="round" stroke-linejoin="round"/><ellipse cx="43.3" cy="41.9" rx="9.7" ry="3.4" fill="#000" fill-opacity="0.144"/><ellipse cx="101.3" cy="41.9" rx="9.7" ry="3.4" fill="#000" fill-opacity="0.144"/><ellipse cx="52.9" cy="75.5" rx="4.8" ry="8.4" fill="#000" fill-opacity="0.180" transform="rotate(-20 52.9 75.5)"/><ellipse cx="91.7" cy="75.5" rx="4.8" ry="8.4" fill="#000" fill-opacity="0.180" transform="rotate(20 91.7 75.5)"/><ellipse cx="4.6" cy="83.8" rx="7.7" ry="11.2" fill="#000" fill-opacity="0.144"/><ellipse cx="140.0" cy="83.8" rx="7.7" ry="11.2" fill="#000" fill-opacity="0.144"/></g></g></g></g><linearGradient id="gi129d" x1="0" y1="0" x2="0" y2="1"><stop offset="0.000" stop-color="#ededed"/><stop offset="0.084" stop-color="#f2f2f2"/><stop offset="0.105" stop-color="#f5f5f5"/><stop offset="0.126" stop-color="#e6e6e6"/><stop offset="0.211" stop-color="#cfcfcf"/><stop offset="0.305" stop-color="#b8b8b8"/><stop offset="0.421" stop-color="#969696"/><stop offset="0.579" stop-color="#878787"/><stop offset="0.790" stop-color="#838383"/><stop offset="1.001" stop-color="#828282"/></linearGradient><clipPath id="cl_i129d"><rect x="0.0" y="0.0" width="145.6" height="106.2" fill="none" /></clipPath><g id="img129d"><g clip-path="url(#cl_i129d)"><g filter="url(#cmd)"><rect x="0" y="0" width="145.6" height="106.15" fill="url(#gi129d)"/><g filter="url(#b2_5)"><path d="M-7.0,62.6 C-3.5,61.0 7.8,55.4 14.2,53.1 C20.7,50.8 26.8,49.1 31.7,48.6 C36.5,48.2 38.9,48.4 43.3,50.3 C47.6,52.3 52.9,57.2 57.8,60.4 C62.6,63.5 69.9,67.8 72.3,69.3" fill="none" stroke="#fff" stroke-opacity="0.3" stroke-width="7" stroke-linecap="round" stroke-linejoin="round"/><path d="M151.6,62.6 C148.1,61.0 136.8,55.4 130.3,53.1 C123.9,50.8 117.8,49.1 112.9,48.6 C108.1,48.2 105.7,48.4 101.3,50.3 C97.0,52.3 91.7,57.2 86.8,60.4 C82.0,63.5 74.7,67.8 72.3,69.3" fill="none" stroke="#fff" stroke-opacity="0.3" stroke-width="7" stroke-linecap="round" stroke-linejoin="round"/></g><g filter="url(#b3)"><path d="M-7.0,51.4 C-3.5,49.8 7.8,44.3 14.2,41.9 C20.7,39.6 26.8,37.9 31.7,37.5 C36.5,37.0 38.9,37.2 43.3,39.1 C47.6,41.1 52.9,46.0 57.8,49.2 C62.6,52.4 69.9,56.6 72.3,58.1" fill="none" stroke="#000" stroke-opacity="0.446" stroke-width="9" stroke-linecap="round" stroke-linejoin="round"/><path d="M151.6,51.4 C148.1,49.8 136.8,44.3 130.3,41.9 C123.9,39.6 117.8,37.9 112.9,37.5 C108.1,37.0 105.7,37.2 101.3,39.1 C97.0,41.1 91.7,46.0 86.8,49.2 C82.0,52.4 74.7,56.6 72.3,58.1" fill="none" stroke="#000" stroke-opacity="0.446" stroke-width="9" stroke-linecap="round" stroke-linejoin="round"/><path d="M-7.0,78.3 C-2.7,76.4 12.3,69.9 19.1,67.1 C25.9,64.3 28.8,61.5 33.6,61.5 C38.4,61.5 43.6,63.4 48.1,67.1 C52.6,70.8 57.5,77.3 60.7,83.8 C63.9,90.4 66.3,102.5 67.5,106.2" fill="none" stroke="#000" stroke-opacity="0.36" stroke-width="8" stroke-linecap="round" stroke-linejoin="round"/><path d="M151.6,78.3 C147.3,76.4 132.3,69.9 125.5,67.1 C118.7,64.3 115.8,61.5 111.0,61.5 C106.2,61.5 101.0,63.4 96.5,67.1 C92.0,70.8 87.1,77.3 83.9,83.8 C80.7,90.4 78.3,102.5 77.1,106.2" fill="none" stroke="#000" stroke-opacity="0.36" stroke-width="8" stroke-linecap="round" stroke-linejoin="round"/><ellipse cx="33.6" cy="38.0" rx="11.6" ry="3.9" fill="#000" fill-opacity="0.180"/><ellipse cx="111.0" cy="38.0" rx="11.6" ry="3.9" fill="#000" fill-opacity="0.180"/><ellipse cx="58.8" cy="78.3" rx="5.8" ry="10.1" fill="#000" fill-opacity="0.216" transform="rotate(-15 58.8 78.3)"/><ellipse cx="85.8" cy="78.3" rx="5.8" ry="10.1" fill="#000" fill-opacity="0.216" transform="rotate(15 85.8 78.3)"/><ellipse cx="2.6" cy="81.1" rx="7.7" ry="14.0" fill="#000" fill-opacity="0.180"/><ellipse cx="142.0" cy="81.1" rx="7.7" ry="14.0" fill="#000" fill-opacity="0.180"/></g></g></g></g><linearGradient id="gi132d" x1="0" y1="0" x2="0" y2="1"><stop offset="0.000" stop-color="#ededed"/><stop offset="0.084" stop-color="#f0f0f0"/><stop offset="0.105" stop-color="#f4f4f4"/><stop offset="0.126" stop-color="#e3e3e3"/><stop offset="0.169" stop-color="#d5d5d5"/><stop offset="0.237" stop-color="#bfbfbf"/><stop offset="0.305" stop-color="#9c9c9c"/><stop offset="0.421" stop-color="#868686"/><stop offset="0.632" stop-color="#838383"/><stop offset="1.001" stop-color="#818181"/></linearGradient><clipPath id="cl_i132d"><rect x="0.0" y="0.0" width="145.6" height="106.2" fill="none" /></clipPath><g id="img132d"><g clip-path="url(#cl_i132d)"><g filter="url(#cmd)"><rect x="0" y="0" width="145.6" height="106.15" fill="url(#gi132d)"/><g filter="url(#b3)"><path d="M4.6,57.1 C7.3,56.4 15.7,54.5 20.6,53.0 C25.6,51.5 30.1,48.8 34.3,48.0 C38.5,47.1 42.3,46.9 45.7,48.0 C49.2,49.0 52.2,51.0 54.9,54.1 C57.5,57.2 59.8,61.9 61.7,66.7 C63.6,71.4 65.1,76.2 66.3,82.7 C67.5,89.1 68.6,101.7 69.0,105.5" fill="none" stroke="#fff" stroke-opacity="0.276" stroke-width="9" stroke-linecap="round" stroke-linejoin="round"/><path d="M75.9,105.5 C76.4,101.7 77.4,89.5 78.8,82.7 C80.3,75.8 82.1,69.3 84.5,64.4 C87.0,59.4 90.2,55.5 93.7,53.0 C97.1,50.5 100.9,49.7 105.1,49.6 C109.3,49.4 114.8,50.1 118.8,51.8 C122.8,53.5 127.3,58.5 129.1,59.8" fill="none" stroke="#fff" stroke-opacity="0.252" stroke-width="9" stroke-linecap="round" stroke-linejoin="round"/><ellipse cx="34.3" cy="86.1" rx="19.4" ry="13.7" fill="#fff" fill-opacity="0.108"/><ellipse cx="108.5" cy="89.5" rx="14.8" ry="14.8" fill="#fff" fill-opacity="0.084"/><ellipse cx="72.0" cy="87.2" rx="3.2" ry="20.5" fill="#fff" fill-opacity="0.120"/><ellipse cx="72.0" cy="30.1" rx="27.4" ry="6.4" fill="#fff" fill-opacity="0.048"/></g><g filter="url(#b3)"><path d="M0.1,30.1 C2.3,30.5 9.6,30.9 13.8,32.4 C18.0,34.0 21.4,37.3 25.2,39.3 C29.0,41.3 32.8,43.6 36.6,44.5 C40.4,45.5 44.6,45.1 48.0,45.0 C51.4,44.9 54.5,43.1 57.1,43.8 C59.8,44.6 61.5,48.0 64.0,49.6 C66.5,51.2 69.5,53.8 72.0,53.4 C74.5,53.1 76.6,49.2 78.8,47.3 C81.1,45.3 82.4,42.3 85.7,41.6 C88.9,40.8 93.5,42.9 98.2,42.7 C103.0,42.5 108.9,42.1 114.2,40.4 C119.5,38.7 125.0,34.9 130.2,32.4 C135.4,30.0 143.0,26.7 145.5,25.6" fill="none" stroke="#000" stroke-opacity="0.36" stroke-width="9" stroke-linecap="round" stroke-linejoin="round"/><path d="M0.1,62.1 C3.9,62.5 16.4,64.8 22.9,64.4 C29.4,64.0 34.3,59.4 38.9,59.8 C43.4,60.2 46.9,62.9 50.3,66.7 C53.7,70.5 57.1,76.0 59.4,82.7 C61.7,89.3 63.2,102.6 64.0,106.6" fill="none" stroke="#000" stroke-opacity="0.288" stroke-width="7" stroke-linecap="round" stroke-linejoin="round"/><path d="M81.8,106.6 C82.6,103.4 84.5,93.5 86.8,87.2 C89.2,80.9 92.5,73.1 96.0,69.0 C99.4,64.8 103.6,62.5 107.4,62.1 C111.2,61.7 115.0,63.3 118.8,66.7 C122.6,70.1 127.0,77.0 130.2,82.7 C133.4,88.4 136.9,97.9 138.2,100.9" fill="none" stroke="#000" stroke-opacity="0.288" stroke-width="7" stroke-linecap="round" stroke-linejoin="round"/></g><g filter="url(#b3_5)"><ellipse cx="13.3" cy="32.4" rx="12.6" ry="5.9" fill="#000" fill-opacity="0.302" transform="rotate(18 13.3 32.4)"/><ellipse cx="57.1" cy="43.8" rx="6.4" ry="8.2" fill="#000" fill-opacity="0.302" transform="rotate(-30 57.1 43.8)"/><ellipse cx="85.7" cy="41.6" rx="8.2" ry="5.9" fill="#000" fill-opacity="0.259" transform="rotate(-15 85.7 41.6)"/><ellipse cx="130.7" cy="32.4" rx="12.6" ry="6.4" fill="#000" fill-opacity="0.302" transform="rotate(-25 130.7 32.4)"/><ellipse cx="1.9" cy="61.0" rx="6.4" ry="8.7" fill="#000" fill-opacity="0.288"/><ellipse cx="2.3" cy="91.8" rx="8.7" ry="17.1" fill="#000" fill-opacity="0.274"/><ellipse cx="141.6" cy="56.4" rx="6.8" ry="17.1" fill="#000" fill-opacity="0.274"/><ellipse cx="133.2" cy="82.7" rx="8.2" ry="13.2" fill="#000" fill-opacity="0.202"/></g><g filter="url(#b0_6)"><path d="M30.2,11.9 L22.9,18.7" fill="none" stroke="#000" stroke-opacity="0.108" stroke-width="1.2" stroke-linecap="round" stroke-linejoin="round"/><path d="M113.1,11.9 L120.4,18.0" fill="none" stroke="#000" stroke-opacity="0.108" stroke-width="1.2" stroke-linecap="round" stroke-linejoin="round"/><path d="M73.1,12.3 L81.1,12.3 L83.4,11.2" fill="none" stroke="#000" stroke-opacity="0.058" stroke-width="1.0" stroke-linecap="round" stroke-linejoin="round"/></g></g></g></g><clipPath id="cl_half"><rect x="72.3" y="0" width="73.3" height="106.15"/></clipPath>
<filter id="cme" color-interpolation-filters="sRGB" filterUnits="userSpaceOnUse" x="0" y="0" width="685" height="504"><feComponentTransfer><feFuncR type="table" tableValues="0.031 0.041 0.050 0.059 0.068 0.077 0.087 0.102 0.122 0.144 0.166 0.187 0.212 0.239 0.269 0.300 0.331 0.362 0.393 0.424 0.456 0.487 0.517 0.548 0.578 0.606 0.630 0.653 0.676 0.698 0.714 0.725 0.734 0.743 0.751 0.760 0.767 0.773 0.778 0.784 0.790 0.795 0.800 0.808 0.816 0.825 0.835 0.846 0.858 0.870 0.882 0.894 0.907 0.918 0.928 0.938 0.947 0.955 0.963 0.971 0.979 0.984 0.990 0.995 1.000"/><feFuncG type="table" tableValues="0.024 0.026 0.028 0.030 0.033 0.035 0.037 0.040 0.043 0.047 0.050 0.053 0.057 0.061 0.066 0.071 0.077 0.083 0.088 0.094 0.099 0.112 0.130 0.148 0.167 0.183 0.201 0.224 0.249 0.273 0.297 0.321 0.344 0.367 0.391 0.415 0.442 0.466 0.490 0.515 0.538 0.557 0.572 0.595 0.622 0.649 0.676 0.706 0.735 0.764 0.790 0.812 0.834 0.853 0.869 0.885 0.899 0.914 0.930 0.945 0.961 0.972 0.982 0.991 1.000"/><feFuncB type="table" tableValues="0.141 0.161 0.180 0.200 0.219 0.239 0.260 0.284 0.311 0.339 0.367 0.396 0.427 0.459 0.477 0.478 0.478 0.478 0.478 0.478 0.478 0.467 0.446 0.424 0.403 0.384 0.357 0.317 0.272 0.227 0.197 0.179 0.166 0.153 0.140 0.128 0.119 0.114 0.108 0.102 0.097 0.095 0.096 0.097 0.099 0.102 0.108 0.123 0.139 0.158 0.184 0.213 0.242 0.282 0.332 0.383 0.429 0.490 0.556 0.623 0.690 0.769 0.847 0.923 1.000"/></feComponentTransfer></filter><clipPath id="cl_e"><rect x="524.5" y="191.8" width="128.0" height="136.2" fill="none" /></clipPath>
</defs>
<line x1="45.4" y1="42.6" x2="173.5" y2="57.4" stroke="#5a78c8" stroke-width="0.5" />
<line x1="132.0" y1="29.6" x2="86.9" y2="70.3" stroke="#5a78c8" stroke-width="0.5" />
<polyline points="86.9,70.3 84.5,92.4 82.7,114.8 84.5,133.5 85.7,149.5" stroke="#5a78c8" stroke-width="0.5" fill="none" />
<polyline points="173.5,57.4 179.9,78.2 186.0,96.0 179.3,118.7 174.5,138.0" stroke="#5a78c8" stroke-width="0.5" fill="none" />
<polyline points="84.5,92.4 154.4,100.4 154.4,120.8" stroke="#5a78c8" stroke-width="0.5" fill="none" />
<polyline points="45.4,42.6 39.9,63.1 34.0,80.0 39.9,103.2 45.5,120.0 85.0,127.0 174.5,138.0" stroke="#5a78c8" stroke-width="0.5" fill="none" stroke-dasharray="2 2" />
<polyline points="132.0,29.6 134.5,48.1 134.5,88.3 132.0,110.0" stroke="#5a78c8" stroke-width="0.5" fill="none" stroke-dasharray="2 2" />
<line x1="45.5" y1="120.0" x2="109.4" y2="131.2" stroke="#5a78c8" stroke-width="0.5" stroke-dasharray="2 2" />
<line x1="134.5" y1="88.3" x2="85.7" y2="149.5" stroke="#5a78c8" stroke-width="0.5" stroke-dasharray="2 2" />
<line x1="109.4" y1="90.6" x2="134.5" y2="88.3" stroke="#5a78c8" stroke-width="0.5" stroke-dasharray="2 2" />
<line x1="109.4" y1="90.6" x2="154.4" y2="120.8" stroke="#5a78c8" stroke-width="0.5" stroke-dasharray="2 2" />
<line x1="109.4" y1="90.6" x2="84.0" y2="127.0" stroke="#5a78c8" stroke-width="0.5" stroke-dasharray="2 2" />
<polyline points="67.9,22.3 64.3,40.2 57.1,61.6 64.3,79.5 67.9,103.2" stroke="#000" stroke-width="0.7" fill="none" stroke-dasharray="3 1.6" />
<polyline points="64.3,40.2 71.4,58.9 64.3,79.5" stroke="#000" stroke-width="0.7" fill="none" stroke-dasharray="3 1.6" />
<line x1="11.0" y1="102.4" x2="57.1" y2="61.6" stroke="#000" stroke-width="0.7" stroke-dasharray="3 1.6" />
<line x1="71.4" y1="58.9" x2="200.7" y2="73.5" stroke="#000" stroke-width="0.7" stroke-dasharray="3 1.6" />
<line x1="22.9" y1="143.6" x2="67.9" y2="103.2" stroke="#000" stroke-width="0.7" stroke-dasharray="3 1.6" />
<line x1="67.9" y1="103.2" x2="196.4" y2="117.5" stroke="#000" stroke-width="0.7" stroke-dasharray="3 1.6" />
<polyline points="204.3,55.6 200.7,73.5 204.9,94.6" stroke="#000" stroke-width="0.7" fill="none" stroke-dasharray="3 1.6" />
<line x1="22.9" y1="62.9" x2="196.1" y2="37.0" stroke="#ee1c24" stroke-width="1.9" />
<line x1="67.9" y1="22.3" x2="150.9" y2="77.7" stroke="#ee1c24" stroke-width="1.9" />
<line x1="22.9" y1="143.6" x2="196.4" y2="117.5" stroke="#ee1c24" stroke-width="1.9" />
<line x1="67.9" y1="103.2" x2="151.2" y2="158.0" stroke="#ee1c24" stroke-width="1.9" />
<line x1="109.4" y1="50.5" x2="109.4" y2="131.2" stroke="#ee1c24" stroke-width="1.9" />
<line x1="11.0" y1="102.4" x2="17.9" y2="107.1" stroke="#ee1c24" stroke-width="1.6" />
<line x1="147.2" y1="122.2" x2="161.8" y2="119.9" stroke="#ee1c24" stroke-width="1.6" />
<line x1="200.7" y1="73.5" x2="207.6" y2="78.2" stroke="#ee1c24" stroke-width="1.6" />
<line x1="57.1" y1="61.6" x2="71.4" y2="58.9" stroke="#ee1c24" stroke-width="1.6" />
<polygon points="22.9,62.9 67.9,22.3 196.1,37.0 150.9,77.7" stroke="#000" stroke-width="0.9" fill="none" />
<polyline points="22.9,62.9 14.9,84.5 11.0,102.4 14.9,125.1 22.9,143.6 151.2,158.0 196.4,117.5 204.9,94.6 207.6,78.2 204.3,55.6 196.1,37.0" stroke="#000" stroke-width="0.9" fill="none" />
<polyline points="14.9,84.5 17.9,107.1 14.9,125.1" stroke="#000" stroke-width="0.9" fill="none" />
<polyline points="150.9,77.7 154.4,100.4 147.2,122.2 154.4,140.2 151.2,158.0" stroke="#000" stroke-width="0.9" fill="none" />
<polyline points="154.4,100.4 161.8,119.9 154.4,140.2" stroke="#000" stroke-width="0.9" fill="none" />
<line x1="17.9" y1="107.1" x2="147.2" y2="122.2" stroke="#000" stroke-width="0.9" />
<line x1="161.8" y1="119.9" x2="207.6" y2="78.2" stroke="#000" stroke-width="0.9" />
<path d="M39.9,63.1 C41.9,64.4 48.7,67.3 52.0,71.0 C55.3,74.7 59.2,81.0 59.5,85.0 C59.8,89.0 57.3,92.0 54.0,95.0 C50.7,98.0 42.2,101.8 39.9,103.2" stroke="#0000ff" stroke-width="2.2" fill="none" />
<circle cx="39.9" cy="63.1" r="2.0" fill="#0000ff"/>
<circle cx="39.9" cy="103.2" r="2.0" fill="#0000ff"/>
<path d="M84.5,92.4 C85.3,93.2 88.3,94.7 89.5,97.0 C90.7,99.3 91.8,102.2 91.7,106.0 C91.6,109.8 90.2,115.4 89.0,120.0 C87.8,124.6 85.2,131.2 84.5,133.5" stroke="#0000ff" stroke-width="2.2" fill="none" />
<circle cx="84.5" cy="92.4" r="2.0" fill="#0000ff"/>
<circle cx="84.5" cy="133.5" r="2.0" fill="#0000ff"/>
<path d="M134.5,48.1 C133.6,50.1 130.3,55.9 129.0,60.0 C127.7,64.2 126.8,69.2 126.8,73.0 C126.8,76.8 127.7,80.5 129.0,83.0 C130.3,85.5 133.6,87.4 134.5,88.3" stroke="#0000ff" stroke-width="2.2" fill="none" />
<circle cx="134.5" cy="48.1" r="2.0" fill="#0000ff"/>
<circle cx="134.5" cy="88.3" r="2.0" fill="#0000ff"/>
<path d="M179.9,78.2 C177.8,79.0 170.5,80.4 167.0,83.0 C163.5,85.6 159.5,90.0 159.0,94.0 C158.5,98.0 160.6,102.9 164.0,107.0 C167.4,111.1 176.8,116.8 179.3,118.7" stroke="#0000ff" stroke-width="2.2" fill="none" />
<circle cx="179.9" cy="78.2" r="2.0" fill="#0000ff"/>
<circle cx="179.3" cy="118.7" r="2.0" fill="#0000ff"/>
<circle cx="109.4" cy="50.5" r="1.4" fill="#000"/>
<circle cx="109.4" cy="90.6" r="1.4" fill="#000"/>
<circle cx="109.4" cy="131.2" r="1.4" fill="#000"/>
<circle cx="86.4" cy="70.7" r="1.4" fill="#000"/>
<circle cx="82.7" cy="114.8" r="1.4" fill="#000"/>
<circle cx="154.4" cy="100.4" r="1.4" fill="#000"/>
<circle cx="154.4" cy="120.8" r="1.4" fill="#000"/>
<text x="2.2" y="13.5" font-size="17" text-anchor="start" fill="#000" font-weight="bold" >a</text>
<text x="72.5" y="45.0" font-size="12" text-anchor="start" fill="#ee1c24" font-style="italic" >U</text>
<text x="81.5" y="40.0" font-size="7.5" text-anchor="start" fill="#ee1c24" font-style="italic" >x</text>
<text x="106.5" y="44.0" font-size="12" text-anchor="start" fill="#000" >Z</text>
<text x="95.5" y="75.8" font-size="12" text-anchor="start" fill="#ee1c24" font-style="italic" >Λ</text>
<text x="103.0" y="71.5" font-size="7.5" text-anchor="start" fill="#ee1c24" font-style="italic" >x</text>
<text x="77.0" y="81.8" font-size="12" text-anchor="start" fill="#000" >Σ</text>
<text x="85.5" y="85.0" font-size="6.5" text-anchor="start" fill="#000" >1</text>
<text x="99.5" y="93.8" font-size="12" text-anchor="start" fill="#000" >Γ</text>
<text x="74.0" y="100.3" font-size="12" text-anchor="start" fill="#0000ff" >N</text>
<text x="74.0" y="126.4" font-size="12" text-anchor="start" fill="#000" >Σ</text>
<text x="145.5" y="101.2" font-size="12" text-anchor="start" fill="#000" >P</text>
<text x="139.0" y="115.8" font-size="12" text-anchor="start" fill="#3355aa" font-style="italic" >W</text>
<text x="150.5" y="109.5" font-size="7.5" text-anchor="start" fill="#3355aa" font-style="italic" >x</text>
<text x="149.4" y="131.8" font-size="12" text-anchor="start" fill="#000" >X</text>
<text x="12.5" y="104.8" font-size="12" text-anchor="start" fill="#ee1c24" font-style="italic" >Y</text>
<text x="21.0" y="100.0" font-size="7.5" text-anchor="start" fill="#ee1c24" font-style="italic" >x</text>
<g clip-path="url(#cl_b)"><g filter="url(#cmb)"><rect x="236.8" y="3.9" width="147.1" height="148.8" fill="url(#gb)"/><g filter="url(#b5)"><rect x="231.8" y="32.0" width="15.0" height="125.0" fill="#000" fill-opacity="0.100"/><rect x="345.0" y="30.0" width="45.0" height="125.0" fill="#fff" fill-opacity="0.060"/><ellipse cx="308.0" cy="57.0" rx="22.0" ry="7.0" fill="#000" fill-opacity="0.160"/><ellipse cx="325.0" cy="60.0" rx="10.0" ry="6.0" fill="#000" fill-opacity="0.080"/><ellipse cx="305.0" cy="95.0" rx="40.0" ry="3.5" fill="#000" fill-opacity="0.220"/><ellipse cx="300.0" cy="96.0" rx="18.0" ry="3.0" fill="#000" fill-opacity="0.150"/><ellipse cx="270.0" cy="76.0" rx="28.0" ry="9.0" fill="#000" fill-opacity="0.090" transform="rotate(-32 270.0 76.0)"/><ellipse cx="245.0" cy="150.0" rx="22.0" ry="10.0" fill="#000" fill-opacity="0.100"/><ellipse cx="290.0" cy="98.0" rx="8.0" ry="3.0" fill="#000" fill-opacity="0.120"/><ellipse cx="350.0" cy="72.0" rx="25.0" ry="10.0" fill="#fff" fill-opacity="0.050"/><ellipse cx="345.0" cy="125.0" rx="30.0" ry="14.0" fill="#fff" fill-opacity="0.050"/></g></g></g>
<rect x="236.8" y="3.9" width="147.1" height="148.8" fill="none" stroke="#000" stroke-width="0.7" />
<line x1="247.5" y1="3.9" x2="247.5" y2="152.7" stroke="#000" stroke-width="0.9" stroke-dasharray="2.2 1.8" />
<line x1="309.5" y1="3.9" x2="309.5" y2="152.7" stroke="#000" stroke-width="0.9" stroke-dasharray="2.2 1.8" />
<line x1="371.6" y1="3.9" x2="371.6" y2="152.7" stroke="#000" stroke-width="0.9" stroke-dasharray="2.2 1.8" />
<path d="M309.5,62.0 C308.4,62.0 305.2,62.0 303.0,62.3 C300.8,62.6 298.5,63.0 296.0,64.0 C293.5,65.0 290.8,66.7 288.0,68.5 C285.2,70.3 282.0,72.7 279.0,74.8 C276.0,76.9 272.8,79.2 270.0,81.2 C267.2,83.2 264.5,85.0 262.0,86.5 C259.5,88.0 257.4,89.1 255.0,90.2 C252.6,91.3 248.8,92.7 247.5,93.2" stroke="#ff28d8" stroke-width="1.1" fill="none" />
<path d="M247.5,92.0 C251.2,91.7 262.9,90.6 270.0,90.0 C277.1,89.4 283.4,88.6 290.0,88.2 C296.6,87.8 306.2,87.6 309.5,87.5" stroke="#ff28d8" stroke-width="1.1" fill="none" />
<path d="M247.5,93.0 C251.2,92.9 262.9,92.6 270.0,92.3 C277.1,92.0 283.4,91.5 290.0,91.2 C296.6,90.9 306.2,90.5 309.5,90.4" stroke="#ff28d8" stroke-width="1.1" fill="none" />
<path d="M247.5,93.6 C249.2,93.9 253.4,94.8 258.0,95.2 C262.6,95.6 268.8,96.1 275.0,96.2 C281.2,96.3 289.2,96.1 295.0,96.0 C300.8,95.9 307.1,95.7 309.5,95.6" stroke="#ff28d8" stroke-width="1.1" fill="none" />
<path d="M247.5,125.4 C251.2,125.5 262.9,125.8 270.0,126.0 C277.1,126.2 283.4,126.7 290.0,126.8 C296.6,126.9 306.2,126.6 309.5,126.6" stroke="#ff28d8" stroke-width="1.1" fill="none" />
<path d="M247.5,125.6 C251.2,125.8 263.2,126.4 270.0,126.8 C276.8,127.2 283.0,127.9 288.0,128.2 C293.0,128.5 296.4,128.6 300.0,128.6 C303.6,128.6 307.9,128.3 309.5,128.2" stroke="#ff28d8" stroke-width="1.1" fill="none" />
<path d="M279.5,152.7 C280.4,151.2 283.2,146.9 285.0,144.0 C286.8,141.1 288.5,137.7 290.0,135.0 C291.5,132.3 292.7,129.9 294.0,128.0 C295.3,126.1 296.5,124.6 298.0,123.5 C299.5,122.4 301.1,122.0 303.0,121.6 C304.9,121.2 308.4,121.3 309.5,121.2" stroke="#ff28d8" stroke-width="1.1" fill="none" />
<path d="M290.0,128.4 C290.7,127.8 292.5,126.0 294.0,125.0 C295.5,124.0 296.4,123.1 299.0,122.6 C301.6,122.1 307.8,122.3 309.5,122.2" stroke="#ff28d8" stroke-width="1.1" fill="none" />
<line x1="236.8" y1="25.4" x2="233.8" y2="25.4" stroke="#000" stroke-width="0.6" /><line x1="236.8" y1="67.8" x2="233.8" y2="67.8" stroke="#000" stroke-width="0.6" /><line x1="236.8" y1="110.3" x2="233.8" y2="110.3" stroke="#000" stroke-width="0.6" /><line x1="236.8" y1="152.7" x2="233.8" y2="152.7" stroke="#000" stroke-width="0.6" />
<line x1="236.8" y1="144.2" x2="235.2" y2="144.2" stroke="#000" stroke-width="0.6" /><line x1="236.8" y1="135.7" x2="235.2" y2="135.7" stroke="#000" stroke-width="0.6" /><line x1="236.8" y1="127.2" x2="235.2" y2="127.2" stroke="#000" stroke-width="0.6" /><line x1="236.8" y1="118.7" x2="235.2" y2="118.7" stroke="#000" stroke-width="0.6" /><line x1="236.8" y1="101.8" x2="235.2" y2="101.8" stroke="#000" stroke-width="0.6" /><line x1="236.8" y1="93.3" x2="235.2" y2="93.3" stroke="#000" stroke-width="0.6" /><line x1="236.8" y1="84.8" x2="235.2" y2="84.8" stroke="#000" stroke-width="0.6" /><line x1="236.8" y1="76.3" x2="235.2" y2="76.3" stroke="#000" stroke-width="0.6" /><line x1="236.8" y1="59.3" x2="235.2" y2="59.3" stroke="#000" stroke-width="0.6" /><line x1="236.8" y1="50.9" x2="235.2" y2="50.9" stroke="#000" stroke-width="0.6" /><line x1="236.8" y1="42.4" x2="235.2" y2="42.4" stroke="#000" stroke-width="0.6" /><line x1="236.8" y1="33.9" x2="235.2" y2="33.9" stroke="#000" stroke-width="0.6" /><line x1="236.8" y1="16.9" x2="235.2" y2="16.9" stroke="#000" stroke-width="0.6" /><line x1="236.8" y1="8.4" x2="235.2" y2="8.4" stroke="#000" stroke-width="0.6" />
<line x1="265.4" y1="152.7" x2="265.4" y2="155.7" stroke="#000" stroke-width="0.6" /><line x1="336.3" y1="152.7" x2="336.3" y2="155.7" stroke="#000" stroke-width="0.6" />
<line x1="237.0" y1="152.7" x2="237.0" y2="154.3" stroke="#000" stroke-width="0.6" /><line x1="251.2" y1="152.7" x2="251.2" y2="154.3" stroke="#000" stroke-width="0.6" /><line x1="265.4" y1="152.7" x2="265.4" y2="154.3" stroke="#000" stroke-width="0.6" /><line x1="279.6" y1="152.7" x2="279.6" y2="154.3" stroke="#000" stroke-width="0.6" /><line x1="293.8" y1="152.7" x2="293.8" y2="154.3" stroke="#000" stroke-width="0.6" /><line x1="307.9" y1="152.7" x2="307.9" y2="154.3" stroke="#000" stroke-width="0.6" /><line x1="322.1" y1="152.7" x2="322.1" y2="154.3" stroke="#000" stroke-width="0.6" /><line x1="336.3" y1="152.7" x2="336.3" y2="154.3" stroke="#000" stroke-width="0.6" /><line x1="350.5" y1="152.7" x2="350.5" y2="154.3" stroke="#000" stroke-width="0.6" /><line x1="364.7" y1="152.7" x2="364.7" y2="154.3" stroke="#000" stroke-width="0.6" /><line x1="378.8" y1="152.7" x2="378.8" y2="154.3" stroke="#000" stroke-width="0.6" />
<text x="232.3" y="28.4" font-size="8.6" text-anchor="end" fill="#000" >0</text>
<text x="232.3" y="70.8" font-size="8.6" text-anchor="end" fill="#000" >-1</text>
<text x="232.3" y="113.3" font-size="8.6" text-anchor="end" fill="#000" >-2</text>
<text x="232.3" y="155.7" font-size="8.6" text-anchor="end" fill="#000" >-3</text>
<text x="265.4" y="163.4" font-size="8.6" text-anchor="middle" fill="#000" >11.0</text>
<text x="336.3" y="163.4" font-size="8.6" text-anchor="middle" fill="#000" >11.5</text>
<text x="209.6" y="13.5" font-size="17" text-anchor="start" fill="#000" font-weight="bold" >b</text>
<text x="249.5" y="17.8" font-size="14" text-anchor="start" fill="#000" >Z</text>
<text x="311.5" y="17.8" font-size="14" text-anchor="start" fill="#000" >Γ</text>
<text x="373.5" y="17.8" font-size="14" text-anchor="start" fill="#000" >Z</text>
<text transform="translate(221.3,96.5) rotate(-90)" font-size="12.3">E-E<tspan font-size="6.5" dy="2.5">F</tspan><tspan dy="-2.5"> (eV)</tspan></text>
<text x="295" y="172" font-size="12.3">k<tspan font-size="7.5" dy="2">Z</tspan><tspan dy="-2"> (Å</tspan><tspan font-size="6.5" dy="-4">-1</tspan><tspan dy="4">)</tspan></text>
<rect x="391.6" y="46.4" width="8.0" height="91.6" fill="url(#cbg)" stroke="#555" stroke-width="0.5" />
<text x="399.8" y="31.2" font-size="10" text-anchor="middle" fill="#000" >I(k, ω)</text>
<text x="397.0" y="43.0" font-size="10" text-anchor="middle" fill="#000" >High</text>
<text x="396.5" y="150.0" font-size="10" text-anchor="middle" fill="#000" >Low</text>
<rect x="446.4" y="15.7" width="75.6" height="79.1" fill="#fff" stroke="#666" stroke-width="0.8" />
<line x1="446.4" y1="53.2" x2="522.0" y2="53.2" stroke="#55ee55" stroke-width="0.9" />
<g clip-path="url(#cl_cin)">
<path d="M446.4,92.5 C446.6,92.4 447.4,92.4 447.9,92.3 C448.4,92.2 448.9,92.2 449.4,92.1 C449.9,92.0 450.4,92.0 450.9,91.9 C451.4,91.8 451.9,91.7 452.4,91.6 C452.9,91.5 453.4,91.4 453.9,91.3 C454.4,91.2 454.9,91.1 455.4,90.9 C455.9,90.8 456.4,90.7 456.9,90.5 C457.4,90.3 457.9,90.2 458.4,90.0 C458.9,89.8 459.4,89.6 459.9,89.3 C460.4,89.1 460.9,88.9 461.4,88.6 C461.9,88.3 462.4,88.0 462.9,87.6 C463.4,87.2 463.9,86.8 464.4,86.4 C464.9,85.9 465.4,85.4 465.9,84.8 C466.4,84.3 466.9,83.6 467.4,82.9 C467.9,82.2 468.4,81.4 468.9,80.4 C469.4,79.5 469.9,78.5 470.4,77.4 C470.9,76.3 471.4,75.1 471.9,73.8 C472.4,72.5 472.9,71.1 473.4,69.8 C473.9,68.5 474.4,67.1 474.9,66.1 C475.4,65.1 475.9,64.1 476.4,63.6 C476.9,63.2 477.4,63.1 477.9,63.4 C478.4,63.7 478.9,64.5 479.4,65.5 C479.9,66.4 480.4,67.7 480.9,69.0 C481.4,70.3 481.9,71.7 482.4,73.0 C482.9,74.3 483.4,75.6 483.9,76.7 C484.4,77.9 484.9,78.9 485.4,79.9 C485.9,80.8 486.4,81.7 486.9,82.5 C487.4,83.2 487.9,83.9 488.4,84.5 C488.9,85.1 489.4,85.6 489.9,86.1 C490.4,86.6 490.9,87.0 491.4,87.4 C491.9,87.7 492.4,88.1 492.9,88.4 C493.4,88.7 493.9,89.0 494.4,89.2 C494.9,89.4 495.4,89.7 495.9,89.9 C496.4,90.1 496.9,90.2 497.4,90.4 C497.9,90.6 498.4,90.7 498.9,90.9 C499.4,91.0 499.9,91.1 500.4,91.2 C500.9,91.4 501.4,91.5 501.9,91.6 C502.4,91.7 502.9,91.8 503.4,91.8 C503.9,91.9 504.4,92.0 504.9,92.1 C505.4,92.1 505.9,92.2 506.4,92.3 C506.9,92.3 507.4,92.4 507.9,92.4 C508.4,92.5 508.9,92.5 509.4,92.6 C509.9,92.6 510.4,92.7 510.9,92.7 C511.4,92.8 511.9,92.8 512.4,92.8 C512.9,92.9 513.4,92.9 513.9,93.0 C514.4,93.0 514.9,93.0 515.4,93.0 C515.9,93.1 516.4,93.1 516.9,93.1 C517.4,93.2 517.9,93.2 518.4,93.2 C518.9,93.2 519.4,93.2 519.9,93.3 C520.4,93.3 521.1,93.3 521.4,93.3" stroke="#ff3030" stroke-width="0.7" fill="none" />
<path d="M446.4,93.7 C446.6,93.7 447.4,93.7 447.9,93.7 C448.4,93.6 448.9,93.6 449.4,93.6 C449.9,93.6 450.4,93.6 450.9,93.6 C451.4,93.6 451.9,93.5 452.4,93.5 C452.9,93.5 453.4,93.5 453.9,93.5 C454.4,93.5 454.9,93.4 455.4,93.4 C455.9,93.4 456.4,93.4 456.9,93.3 C457.4,93.3 457.9,93.3 458.4,93.3 C458.9,93.2 459.4,93.2 459.9,93.2 C460.4,93.1 460.9,93.1 461.4,93.1 C461.9,93.0 462.4,93.0 462.9,93.0 C463.4,92.9 463.9,92.9 464.4,92.8 C464.9,92.8 465.4,92.7 465.9,92.7 C466.4,92.6 466.9,92.5 467.4,92.5 C467.9,92.4 468.4,92.3 468.9,92.2 C469.4,92.2 469.9,92.1 470.4,92.0 C470.9,91.9 471.4,91.8 471.9,91.6 C472.4,91.5 472.9,91.4 473.4,91.2 C473.9,91.1 474.4,90.9 474.9,90.7 C475.4,90.5 475.9,90.3 476.4,90.1 C476.9,89.8 477.4,89.6 477.9,89.3 C478.4,89.0 478.9,88.6 479.4,88.2 C479.9,87.8 480.4,87.4 480.9,86.9 C481.4,86.3 481.9,85.8 482.4,85.1 C482.9,84.4 483.4,83.6 483.9,82.7 C484.4,81.9 484.9,80.9 485.4,79.8 C485.9,78.7 486.4,77.5 486.9,76.3 C487.4,75.2 487.9,73.8 488.4,72.9 C488.9,71.9 489.4,71.0 489.9,70.6 C490.4,70.2 490.9,70.1 491.4,70.5 C491.9,70.8 492.4,71.7 492.9,72.7 C493.4,73.6 493.9,74.9 494.4,76.1 C494.9,77.2 495.4,78.5 495.9,79.6 C496.4,80.6 496.9,81.7 497.4,82.6 C497.9,83.5 498.4,84.2 498.9,84.9 C499.4,85.6 499.9,86.2 500.4,86.8 C500.9,87.3 501.4,87.7 501.9,88.2 C502.4,88.6 502.9,88.9 503.4,89.2 C503.9,89.5 504.4,89.8 504.9,90.0 C505.4,90.3 505.9,90.5 506.4,90.7 C506.9,90.9 507.4,91.0 507.9,91.2 C508.4,91.4 508.9,91.5 509.4,91.6 C509.9,91.7 510.4,91.8 510.9,91.9 C511.4,92.0 511.9,92.1 512.4,92.2 C512.9,92.3 513.4,92.4 513.9,92.5 C514.4,92.5 514.9,92.6 515.4,92.6 C515.9,92.7 516.4,92.8 516.9,92.8 C517.4,92.9 517.9,92.9 518.4,92.9 C518.9,93.0 519.4,93.0 519.9,93.1 C520.4,93.1 521.1,93.2 521.4,93.2" stroke="#3030ff" stroke-width="0.7" fill="none" />
</g>
<path d="M446.4,50.9 C446.8,50.7 448.1,49.9 449.0,49.5 C449.9,49.1 451.0,48.9 452.0,48.8 C453.0,48.7 454.0,49.2 455.0,49.0 C456.0,48.8 457.0,48.2 458.0,47.6 C459.0,47.0 460.0,46.3 461.0,45.5 C462.0,44.7 463.2,43.7 464.0,43.0 C464.8,42.3 465.3,42.3 466.0,41.5 C466.7,40.7 467.3,39.3 468.0,38.0 C468.7,36.7 469.3,35.2 470.0,33.5 C470.7,31.8 471.3,29.8 472.0,28.0 C472.7,26.2 473.3,24.2 474.0,22.5 C474.7,20.8 475.4,19.1 476.0,18.0 C476.6,16.9 477.0,16.4 477.5,16.2 C478.0,16.0 478.4,16.3 479.0,16.6 C479.6,16.9 480.3,17.6 481.0,18.0 C481.7,18.4 482.3,18.7 483.0,19.0 C483.7,19.3 484.6,19.8 485.4,19.8 C486.1,19.8 486.8,19.1 487.5,18.8 C488.2,18.5 488.9,17.9 489.5,17.8 C490.1,17.7 490.4,17.5 491.0,18.0 C491.6,18.5 492.3,19.8 493.0,21.0 C493.7,22.2 494.2,23.7 495.0,25.5 C495.8,27.3 497.0,30.0 498.0,32.0 C499.0,34.0 500.0,35.8 501.0,37.5 C502.0,39.2 503.0,40.7 504.0,42.0 C505.0,43.3 506.0,44.5 507.0,45.5 C508.0,46.5 509.0,47.3 510.0,48.0 C511.0,48.7 512.0,49.1 513.0,49.5 C514.0,49.9 515.0,50.1 516.0,50.5 C517.0,50.9 518.0,51.4 519.0,51.6 C520.0,51.8 521.5,51.8 522.0,51.8" stroke="#000" stroke-width="1.4" fill="none" />
<line x1="477.5" y1="1.8" x2="477.5" y2="13.0" stroke="#ff2020" stroke-width="0.6" />
<polygon points="476.0,11.2 477.5,15.0 479.0,11.2" stroke="none" stroke-width="1" fill="#ff2020" />
<line x1="490.7" y1="4.5" x2="490.7" y2="15.0" stroke="#2020ff" stroke-width="0.6" />
<polygon points="489.2,13.2 490.7,17.0 492.2,13.2" stroke="none" stroke-width="1" fill="#2020ff" />
<text x="447.5" y="106.0" font-size="8" text-anchor="middle" fill="#000" >-0.45</text>
<text x="521.0" y="106.0" font-size="8" text-anchor="middle" fill="#000" >-0.3</text>
<text transform="translate(437,91) rotate(-90)" font-size="12.3">Intensity (a. u.)</text>
<g clip-path="url(#cl_ci)"><g filter="url(#cm)"><rect x="446.4" y="108.2" width="75.0" height="43.2" fill="url(#gci)"/><g filter="url(#b2)"><path d="M468.0,116.5 C469.7,116.9 474.7,117.6 478.0,119.0 C481.3,120.4 484.3,122.5 488.0,125.0 C491.7,127.5 496.0,131.0 500.0,134.0 C504.0,137.0 508.2,140.2 512.0,143.0 C515.8,145.8 521.2,149.7 523.0,151.0" fill="none" stroke="#000" stroke-opacity="0.2" stroke-width="5" stroke-linecap="round" stroke-linejoin="round"/><path d="M474.0,116.0 C475.8,116.8 481.2,118.7 485.0,121.0 C488.8,123.3 493.0,126.8 497.0,130.0 C501.0,133.2 504.8,136.7 509.0,140.0 C513.2,143.3 519.8,148.3 522.0,150.0" fill="none" stroke="#000" stroke-opacity="0.18" stroke-width="2.5" stroke-linecap="round" stroke-linejoin="round"/><ellipse cx="511.0" cy="145.0" rx="13.0" ry="5.0" fill="#000" fill-opacity="0.300" transform="rotate(38 511.0 145.0)"/><ellipse cx="474.0" cy="117.5" rx="6.0" ry="2.0" fill="#000" fill-opacity="0.180"/></g></g></g>
<rect x="446.4" y="108.2" width="75.0" height="43.2" fill="none" stroke="#ff2020" stroke-width="0.9" stroke-dasharray="1.6 1.4"/>
<line x1="446.4" y1="94.8" x2="456.8" y2="120.4" stroke="#555" stroke-width="0.7" stroke-dasharray="1.2 1.2" />
<line x1="522.0" y1="94.8" x2="488.6" y2="120.4" stroke="#555" stroke-width="0.7" stroke-dasharray="1.2 1.2" />
<line x1="456.8" y1="120.4" x2="488.6" y2="120.4" stroke="#000" stroke-width="1.3" />
<line x1="446.4" y1="115.4" x2="443.4" y2="115.4" stroke="#000" stroke-width="0.6" /><line x1="446.4" y1="129.7" x2="443.4" y2="129.7" stroke="#000" stroke-width="0.6" /><line x1="446.4" y1="143.9" x2="443.4" y2="143.9" stroke="#000" stroke-width="0.6" />
<line x1="446.4" y1="122.5" x2="444.8" y2="122.5" stroke="#000" stroke-width="0.6" /><line x1="446.4" y1="136.8" x2="444.8" y2="136.8" stroke="#000" stroke-width="0.6" /><line x1="446.4" y1="151.0" x2="444.8" y2="151.0" stroke="#000" stroke-width="0.6" />
<line x1="467.5" y1="151.4" x2="467.5" y2="154.4" stroke="#000" stroke-width="0.6" /><line x1="510.4" y1="151.4" x2="510.4" y2="154.4" stroke="#000" stroke-width="0.6" />
<line x1="456.8" y1="151.4" x2="456.8" y2="153.0" stroke="#000" stroke-width="0.6" /><line x1="467.5" y1="151.4" x2="467.5" y2="153.0" stroke="#000" stroke-width="0.6" /><line x1="478.2" y1="151.4" x2="478.2" y2="153.0" stroke="#000" stroke-width="0.6" /><line x1="488.9" y1="151.4" x2="488.9" y2="153.0" stroke="#000" stroke-width="0.6" /><line x1="499.7" y1="151.4" x2="499.7" y2="153.0" stroke="#000" stroke-width="0.6" /><line x1="510.4" y1="151.4" x2="510.4" y2="153.0" stroke="#000" stroke-width="0.6" /><line x1="521.1" y1="151.4" x2="521.1" y2="153.0" stroke="#000" stroke-width="0.6" />
<text x="442.4" y="118.4" font-size="8.8" text-anchor="end" fill="#000" >0.0</text>
<text x="442.4" y="132.7" font-size="8.8" text-anchor="end" fill="#000" >-0.2</text>
<text x="442.4" y="146.9" font-size="8.8" text-anchor="end" fill="#000" >-0.4</text>
<text x="466.5" y="161.4" font-size="8.8" text-anchor="middle" fill="#000" >-0.4</text>
<text x="509.4" y="161.4" font-size="8.8" text-anchor="middle" fill="#000" >-0.2</text>
<text transform="translate(426,155.5) rotate(-90)" font-size="12.3">E-E<tspan font-size="6.5" dy="2.5">F</tspan><tspan dy="-2.5"> (eV)</tspan></text>
<text x="467" y="173.6" font-size="12.3">k<tspan font-size="6" dy="2" font-style="italic">//</tspan><tspan dy="-2"> (Å</tspan><tspan font-size="6.5" dy="-4">-1</tspan><tspan dy="4">)</tspan></text>
<g clip-path="url(#cl_cr)"><g filter="url(#cm)"><rect x="526.6" y="15.7" width="127.7" height="135.7" fill="url(#gcr)"/><g filter="url(#b4)"><polygon points="553.0,30.0 606.0,30.0 593.0,60.0 580.0,84.0 566.0,56.0" fill="#000" fill-opacity="0.100"/><ellipse cx="589.0" cy="66.0" rx="7.0" ry="9.0" fill="#000" fill-opacity="0.100" transform="rotate(25 589.0 66.0)"/><polygon points="526.0,44.0 545.0,44.0 538.0,70.0 526.0,80.0" fill="#000" fill-opacity="0.070"/><polygon points="615.0,40.0 655.0,40.0 655.0,152.0 640.0,152.0 625.0,95.0" fill="#000" fill-opacity="0.060"/><ellipse cx="556.0" cy="108.0" rx="11.0" ry="17.0" fill="#fff" fill-opacity="0.150" transform="rotate(-15 556.0 108.0)"/><ellipse cx="608.0" cy="108.0" rx="11.0" ry="20.0" fill="#fff" fill-opacity="0.150" transform="rotate(20 608.0 108.0)"/><ellipse cx="593.0" cy="142.0" rx="8.0" ry="8.0" fill="#fff" fill-opacity="0.060"/><ellipse cx="546.0" cy="152.0" rx="18.0" ry="7.0" fill="#000" fill-opacity="0.260"/><ellipse cx="655.0" cy="146.0" rx="7.0" ry="10.0" fill="#000" fill-opacity="0.140"/><ellipse cx="527.0" cy="122.0" rx="5.0" ry="15.0" fill="#000" fill-opacity="0.320"/></g><g filter="url(#b2)"><path d="M611.0,30.0 C612.2,33.7 615.5,44.0 618.0,52.0 C620.5,60.0 623.5,69.8 626.0,78.0 C628.5,86.2 630.5,94.2 633.0,101.0 C635.5,107.8 637.8,113.5 641.0,119.0 C644.2,124.5 649.2,130.5 652.0,134.0 C654.8,137.5 657.0,139.0 658.0,140.0" fill="none" stroke="#000" stroke-opacity="0.22" stroke-width="7" stroke-linecap="round" stroke-linejoin="round"/><path d="M624.0,74.0 C625.2,77.7 628.5,89.0 631.0,96.0 C633.5,103.0 635.8,110.0 639.0,116.0 C642.2,122.0 648.2,129.3 650.0,132.0" fill="none" stroke="#000" stroke-opacity="0.45" stroke-width="5" stroke-linecap="round" stroke-linejoin="round"/><path d="M630.0,93.0 C631.0,95.8 633.8,105.0 636.0,110.0 C638.2,115.0 641.8,120.8 643.0,123.0" fill="none" stroke="#000" stroke-opacity="0.4" stroke-width="3.5" stroke-linecap="round" stroke-linejoin="round"/><path d="M550.0,30.0 C549.3,33.3 547.7,42.5 546.0,50.0 C544.3,57.5 542.2,66.7 540.0,75.0 C537.8,83.3 535.3,92.5 533.0,100.0 C530.7,107.5 527.2,116.7 526.0,120.0" fill="none" stroke="#000" stroke-opacity="0.1" stroke-width="6" stroke-linecap="round" stroke-linejoin="round"/><path d="M545.0,90.0 C543.5,92.7 539.0,101.0 536.0,106.0 C533.0,111.0 528.5,117.7 527.0,120.0" fill="none" stroke="#000" stroke-opacity="0.14" stroke-width="4" stroke-linecap="round" stroke-linejoin="round"/></g><g filter="url(#b1_5)"><path d="M552.0,28.0 L560.0,42.0 L567.0,54.0 L574.0,68.0 L580.0,81.0" fill="none" stroke="#000" stroke-opacity="0.22" stroke-width="3.2" stroke-linecap="round" stroke-linejoin="round"/><path d="M562.0,46.0 L568.0,57.0" fill="none" stroke="#000" stroke-opacity="0.15" stroke-width="3" stroke-linecap="round" stroke-linejoin="round"/><path d="M606.0,30.0 L598.0,48.0 L590.0,66.0 L581.0,83.0" fill="none" stroke="#000" stroke-opacity="0.14" stroke-width="3.5" stroke-linecap="round" stroke-linejoin="round"/><path d="M571.0,82.0 L576.0,113.0 L581.0,145.0 L583.0,152.0" fill="none" stroke="#000" stroke-opacity="0.16" stroke-width="2.5" stroke-linecap="round" stroke-linejoin="round"/><path d="M592.0,82.0 L580.0,113.0 L573.0,138.0 L569.0,152.0" fill="none" stroke="#000" stroke-opacity="0.16" stroke-width="2.5" stroke-linecap="round" stroke-linejoin="round"/></g></g></g>
<rect x="526.6" y="15.7" width="127.7" height="135.7" fill="none" stroke="#555" stroke-width="0.7" />
<g clip-path="url(#cl_cr)">
<path d="M580.3,81.0 C581.1,80.0 583.4,78.3 585.2,75.2 C587.0,72.1 589.1,67.3 591.0,62.2 C592.9,57.1 595.3,48.9 596.8,44.8 C598.2,40.7 598.8,39.1 599.7,37.5 C600.6,35.9 601.2,35.1 602.0,35.2 C602.8,35.3 603.8,37.7 604.6,38.1 C605.4,38.5 606.0,38.7 607.0,37.6 C608.0,36.5 609.2,31.5 610.4,31.7 C611.6,31.9 612.8,34.9 614.2,39.0 C615.6,43.1 616.9,49.1 618.6,56.4 C620.3,63.6 622.4,74.8 624.3,82.5 C626.2,90.2 628.0,97.0 630.0,102.8 C632.0,108.6 633.6,112.4 636.0,117.2 C638.4,122.0 642.0,128.8 644.6,131.7 C647.2,134.6 650.7,134.3 651.9,134.8" stroke="#ff28d8" stroke-width="1.2" fill="none" />
<path d="M598.4,45.3 C598.9,44.1 600.4,39.6 601.3,38.0 C602.2,36.4 602.8,35.6 603.6,35.7 C604.4,35.8 605.4,38.2 606.2,38.6 C607.0,39.0 607.6,39.2 608.6,38.1 C609.6,37.0 610.8,32.0 612.0,32.2 C613.2,32.4 614.4,35.4 615.8,39.5 C617.2,43.6 618.5,49.6 620.2,56.9 C621.9,64.2 624.0,75.3 625.9,83.0 C627.8,90.7 629.6,97.5 631.6,103.3 C633.6,109.1 635.2,112.9 637.6,117.7 C640.0,122.5 643.6,129.3 646.2,132.2 C648.9,135.1 652.3,134.8 653.5,135.3" stroke="#ff28d8" stroke-width="1.0" fill="none" />
<path d="M580.3,121.6 C581.4,119.4 584.2,115.6 586.7,108.6 C589.2,101.6 592.8,89.3 595.4,79.6 C598.0,69.9 601.0,56.4 602.6,50.6 C604.2,44.8 604.2,45.3 604.9,44.8 C605.6,44.3 606.4,46.0 607.0,47.5 C607.6,49.0 606.9,47.7 608.4,53.5 C609.9,59.3 613.1,73.8 615.7,82.5 C618.4,91.2 620.9,98.5 624.3,105.7 C627.7,112.9 632.6,121.0 636.0,125.9 C639.4,130.8 642.0,133.5 644.6,135.2 C647.2,136.9 650.7,136.1 651.9,136.3" stroke="#ff28d8" stroke-width="1.4" fill="none" />
<line x1="602.3" y1="15.7" x2="609.0" y2="29.5" stroke="#ff28d8" stroke-width="0.8" />
<line x1="617.8" y1="15.7" x2="606.8" y2="29.5" stroke="#ff28d8" stroke-width="0.8" />
<line x1="603.5" y1="15.7" x2="610.2" y2="29.5" stroke="#ff28d8" stroke-width="0.8" />
<line x1="619.0" y1="15.7" x2="608.0" y2="29.5" stroke="#ff28d8" stroke-width="0.8" />
<line x1="604.7" y1="15.7" x2="611.4" y2="29.5" stroke="#ff28d8" stroke-width="0.8" />
<line x1="620.2" y1="15.7" x2="609.2" y2="29.5" stroke="#ff28d8" stroke-width="0.8" />
<path d="M580.3,119.6 C581.1,119.9 583.7,120.5 585.2,121.6 C586.8,122.7 587.4,123.1 589.6,126.0 C591.8,128.9 595.4,135.6 598.3,139.0 C601.2,142.4 604.6,144.0 607.0,146.2 C609.4,148.4 611.8,151.0 612.8,152.0" stroke="#ff28d8" stroke-width="1.3" fill="none" />
<path d="M580.3,124.6 C580.9,124.3 582.7,122.8 584.0,123.0 C585.3,123.2 586.7,124.0 588.0,125.5 C589.3,127.0 590.3,129.2 592.0,132.0 C593.7,134.8 596.3,139.8 598.3,142.0 C600.3,144.2 602.0,144.2 604.0,145.5 C606.0,146.8 609.0,148.8 610.0,149.5" stroke="#ff28d8" stroke-width="1.2" fill="none" />
<path d="M580.3,129.4 C581.1,128.8 583.8,126.2 585.2,126.0 C586.7,125.8 588.4,128.1 589.0,128.5" stroke="#ff28d8" stroke-width="1.2" fill="none" />
</g>
<rect x="544.5" y="21.8" width="25.0" height="36.6" fill="none" stroke="#ff1a1a" stroke-width="0.9" stroke-dasharray="1.6 1.4"/>
<line x1="544.5" y1="58.4" x2="526.5" y2="120.0" stroke="#ff1a1a" stroke-width="1.1" />
<polygon points="520.8,128.5 523.6,116.8 529.0,122.5" stroke="none" stroke-width="1" fill="#ff1a1a" />
<line x1="654.3" y1="28.0" x2="657.3" y2="28.0" stroke="#000" stroke-width="0.6" /><line x1="654.3" y1="58.9" x2="657.3" y2="58.9" stroke="#000" stroke-width="0.6" /><line x1="654.3" y1="89.7" x2="657.3" y2="89.7" stroke="#000" stroke-width="0.6" /><line x1="654.3" y1="120.6" x2="657.3" y2="120.6" stroke="#000" stroke-width="0.6" /><line x1="654.3" y1="151.4" x2="657.3" y2="151.4" stroke="#000" stroke-width="0.6" />
<line x1="654.3" y1="21.8" x2="655.9" y2="21.8" stroke="#000" stroke-width="0.6" /><line x1="654.3" y1="34.2" x2="655.9" y2="34.2" stroke="#000" stroke-width="0.6" /><line x1="654.3" y1="40.3" x2="655.9" y2="40.3" stroke="#000" stroke-width="0.6" /><line x1="654.3" y1="46.5" x2="655.9" y2="46.5" stroke="#000" stroke-width="0.6" /><line x1="654.3" y1="52.7" x2="655.9" y2="52.7" stroke="#000" stroke-width="0.6" /><line x1="654.3" y1="65.0" x2="655.9" y2="65.0" stroke="#000" stroke-width="0.6" /><line x1="654.3" y1="71.2" x2="655.9" y2="71.2" stroke="#000" stroke-width="0.6" /><line x1="654.3" y1="77.4" x2="655.9" y2="77.4" stroke="#000" stroke-width="0.6" /><line x1="654.3" y1="83.5" x2="655.9" y2="83.5" stroke="#000" stroke-width="0.6" /><line x1="654.3" y1="95.9" x2="655.9" y2="95.9" stroke="#000" stroke-width="0.6" /><line x1="654.3" y1="102.0" x2="655.9" y2="102.0" stroke="#000" stroke-width="0.6" /><line x1="654.3" y1="108.2" x2="655.9" y2="108.2" stroke="#000" stroke-width="0.6" /><line x1="654.3" y1="114.4" x2="655.9" y2="114.4" stroke="#000" stroke-width="0.6" /><line x1="654.3" y1="126.7" x2="655.9" y2="126.7" stroke="#000" stroke-width="0.6" /><line x1="654.3" y1="132.9" x2="655.9" y2="132.9" stroke="#000" stroke-width="0.6" /><line x1="654.3" y1="139.1" x2="655.9" y2="139.1" stroke="#000" stroke-width="0.6" /><line x1="654.3" y1="145.2" x2="655.9" y2="145.2" stroke="#000" stroke-width="0.6" />
<line x1="545.6" y1="151.4" x2="545.6" y2="154.4" stroke="#000" stroke-width="0.6" /><line x1="580.2" y1="151.4" x2="580.2" y2="154.4" stroke="#000" stroke-width="0.6" /><line x1="614.9" y1="151.4" x2="614.9" y2="154.4" stroke="#000" stroke-width="0.6" /><line x1="649.5" y1="151.4" x2="649.5" y2="154.4" stroke="#000" stroke-width="0.6" />
<line x1="531.7" y1="151.4" x2="531.7" y2="153.0" stroke="#000" stroke-width="0.6" /><line x1="538.6" y1="151.4" x2="538.6" y2="153.0" stroke="#000" stroke-width="0.6" /><line x1="552.5" y1="151.4" x2="552.5" y2="153.0" stroke="#000" stroke-width="0.6" /><line x1="559.4" y1="151.4" x2="559.4" y2="153.0" stroke="#000" stroke-width="0.6" /><line x1="566.3" y1="151.4" x2="566.3" y2="153.0" stroke="#000" stroke-width="0.6" /><line x1="573.3" y1="151.4" x2="573.3" y2="153.0" stroke="#000" stroke-width="0.6" /><line x1="587.1" y1="151.4" x2="587.1" y2="153.0" stroke="#000" stroke-width="0.6" /><line x1="594.1" y1="151.4" x2="594.1" y2="153.0" stroke="#000" stroke-width="0.6" /><line x1="601.0" y1="151.4" x2="601.0" y2="153.0" stroke="#000" stroke-width="0.6" /><line x1="607.9" y1="151.4" x2="607.9" y2="153.0" stroke="#000" stroke-width="0.6" /><line x1="621.8" y1="151.4" x2="621.8" y2="153.0" stroke="#000" stroke-width="0.6" /><line x1="628.7" y1="151.4" x2="628.7" y2="153.0" stroke="#000" stroke-width="0.6" /><line x1="635.6" y1="151.4" x2="635.6" y2="153.0" stroke="#000" stroke-width="0.6" /><line x1="642.6" y1="151.4" x2="642.6" y2="153.0" stroke="#000" stroke-width="0.6" />
<text x="658.3" y="31.1" font-size="9" text-anchor="start" fill="#000" >0.0</text>
<text x="658.3" y="62.0" font-size="9" text-anchor="start" fill="#000" >-0.5</text>
<text x="658.3" y="92.8" font-size="9" text-anchor="start" fill="#000" >-1.0</text>
<text x="658.3" y="123.7" font-size="9" text-anchor="start" fill="#000" >-1.5</text>
<text x="658.3" y="154.5" font-size="9" text-anchor="start" fill="#000" >-2.0</text>
<text x="544.6" y="161.5" font-size="9" text-anchor="middle" fill="#000" >-0.5</text>
<text x="580.2" y="161.5" font-size="9" text-anchor="middle" fill="#000" >0.0</text>
<text x="614.9" y="161.5" font-size="9" text-anchor="middle" fill="#000" >0.5</text>
<text x="649.5" y="161.5" font-size="9" text-anchor="middle" fill="#000" >1.0</text>
<text x="580.6" y="13.3" font-size="13" text-anchor="middle" fill="#000" >Γ</text>
<text x="654.0" y="13.3" font-size="13" text-anchor="middle" fill="#000" >X</text>
<text x="569.5" y="173.6" font-size="12.3">k<tspan font-size="6" dy="2" font-style="italic">//</tspan><tspan dy="-2"> (Å</tspan><tspan font-size="6.5" dy="-4">-1</tspan><tspan dy="4">)</tspan></text>
<text transform="translate(675.3,55.7) rotate(90)" font-size="12">E-E<tspan font-size="6.5" dy="2.5">F</tspan><tspan dy="-2.5"> (eV)</tspan></text>
<text x="410.8" y="13.5" font-size="17" text-anchor="start" fill="#000" font-weight="bold" >c</text>
<use href="#img132" transform="translate(34.5,369.1)"/>
<rect x="34.5" y="369.1" width="145.6" height="106.1" fill="none" stroke="#444" stroke-width="0.7" />
<line x1="48.8" y1="475.2" x2="48.8" y2="478.2" stroke="#000" stroke-width="0.6" /><line x1="68.1" y1="475.2" x2="68.1" y2="478.2" stroke="#000" stroke-width="0.6" /><line x1="87.4" y1="475.2" x2="87.4" y2="478.2" stroke="#000" stroke-width="0.6" /><line x1="106.8" y1="475.2" x2="106.8" y2="478.2" stroke="#000" stroke-width="0.6" /><line x1="126.2" y1="475.2" x2="126.2" y2="478.2" stroke="#000" stroke-width="0.6" /><line x1="145.5" y1="475.2" x2="145.5" y2="478.2" stroke="#000" stroke-width="0.6" /><line x1="164.8" y1="475.2" x2="164.8" y2="478.2" stroke="#000" stroke-width="0.6" />
<line x1="34.2" y1="475.2" x2="34.2" y2="476.8" stroke="#000" stroke-width="0.5" /><line x1="39.1" y1="475.2" x2="39.1" y2="476.8" stroke="#000" stroke-width="0.5" /><line x1="43.9" y1="475.2" x2="43.9" y2="476.8" stroke="#000" stroke-width="0.5" /><line x1="53.6" y1="475.2" x2="53.6" y2="476.8" stroke="#000" stroke-width="0.5" /><line x1="58.4" y1="475.2" x2="58.4" y2="476.8" stroke="#000" stroke-width="0.5" /><line x1="63.3" y1="475.2" x2="63.3" y2="476.8" stroke="#000" stroke-width="0.5" /><line x1="72.9" y1="475.2" x2="72.9" y2="476.8" stroke="#000" stroke-width="0.5" /><line x1="77.8" y1="475.2" x2="77.8" y2="476.8" stroke="#000" stroke-width="0.5" /><line x1="82.6" y1="475.2" x2="82.6" y2="476.8" stroke="#000" stroke-width="0.5" /><line x1="92.3" y1="475.2" x2="92.3" y2="476.8" stroke="#000" stroke-width="0.5" /><line x1="97.1" y1="475.2" x2="97.1" y2="476.8" stroke="#000" stroke-width="0.5" /><line x1="102.0" y1="475.2" x2="102.0" y2="476.8" stroke="#000" stroke-width="0.5" /><line x1="111.6" y1="475.2" x2="111.6" y2="476.8" stroke="#000" stroke-width="0.5" /><line x1="116.5" y1="475.2" x2="116.5" y2="476.8" stroke="#000" stroke-width="0.5" /><line x1="121.3" y1="475.2" x2="121.3" y2="476.8" stroke="#000" stroke-width="0.5" /><line x1="131.0" y1="475.2" x2="131.0" y2="476.8" stroke="#000" stroke-width="0.5" /><line x1="135.8" y1="475.2" x2="135.8" y2="476.8" stroke="#000" stroke-width="0.5" /><line x1="140.7" y1="475.2" x2="140.7" y2="476.8" stroke="#000" stroke-width="0.5" /><line x1="150.3" y1="475.2" x2="150.3" y2="476.8" stroke="#000" stroke-width="0.5" /><line x1="155.2" y1="475.2" x2="155.2" y2="476.8" stroke="#000" stroke-width="0.5" /><line x1="160.0" y1="475.2" x2="160.0" y2="476.8" stroke="#000" stroke-width="0.5" /><line x1="169.7" y1="475.2" x2="169.7" y2="476.8" stroke="#000" stroke-width="0.5" /><line x1="174.5" y1="475.2" x2="174.5" y2="476.8" stroke="#000" stroke-width="0.5" /><line x1="179.4" y1="475.2" x2="179.4" y2="476.8" stroke="#000" stroke-width="0.5" />
<line x1="34.5" y1="380.5" x2="31.5" y2="380.5" stroke="#000" stroke-width="0.6" /><line x1="34.5" y1="408.4" x2="31.5" y2="408.4" stroke="#000" stroke-width="0.6" /><line x1="34.5" y1="436.4" x2="31.5" y2="436.4" stroke="#000" stroke-width="0.6" /><line x1="34.5" y1="464.4" x2="31.5" y2="464.4" stroke="#000" stroke-width="0.6" />
<line x1="34.5" y1="475.5" x2="33.0" y2="475.5" stroke="#000" stroke-width="0.5" /><line x1="34.5" y1="469.9" x2="33.0" y2="469.9" stroke="#000" stroke-width="0.5" /><line x1="34.5" y1="458.8" x2="33.0" y2="458.8" stroke="#000" stroke-width="0.5" /><line x1="34.5" y1="453.2" x2="33.0" y2="453.2" stroke="#000" stroke-width="0.5" /><line x1="34.5" y1="447.6" x2="33.0" y2="447.6" stroke="#000" stroke-width="0.5" /><line x1="34.5" y1="442.0" x2="33.0" y2="442.0" stroke="#000" stroke-width="0.5" /><line x1="34.5" y1="430.8" x2="33.0" y2="430.8" stroke="#000" stroke-width="0.5" /><line x1="34.5" y1="425.2" x2="33.0" y2="425.2" stroke="#000" stroke-width="0.5" /><line x1="34.5" y1="419.6" x2="33.0" y2="419.6" stroke="#000" stroke-width="0.5" /><line x1="34.5" y1="414.0" x2="33.0" y2="414.0" stroke="#000" stroke-width="0.5" /><line x1="34.5" y1="402.9" x2="33.0" y2="402.9" stroke="#000" stroke-width="0.5" /><line x1="34.5" y1="397.3" x2="33.0" y2="397.3" stroke="#000" stroke-width="0.5" /><line x1="34.5" y1="391.7" x2="33.0" y2="391.7" stroke="#000" stroke-width="0.5" /><line x1="34.5" y1="386.1" x2="33.0" y2="386.1" stroke="#000" stroke-width="0.5" /><line x1="34.5" y1="374.9" x2="33.0" y2="374.9" stroke="#000" stroke-width="0.5" /><line x1="34.5" y1="369.3" x2="33.0" y2="369.3" stroke="#000" stroke-width="0.5" />
<text x="48.0" y="485.8" font-size="8.6" text-anchor="middle" fill="#000" >-0.6</text>
<text x="67.3" y="485.8" font-size="8.6" text-anchor="middle" fill="#000" >-0.4</text>
<text x="86.6" y="485.8" font-size="8.6" text-anchor="middle" fill="#000" >-0.2</text>
<text x="106.8" y="485.8" font-size="8.6" text-anchor="middle" fill="#000" >0.0</text>
<text x="126.2" y="485.8" font-size="8.6" text-anchor="middle" fill="#000" >0.2</text>
<text x="145.5" y="485.8" font-size="8.6" text-anchor="middle" fill="#000" >0.4</text>
<text x="164.8" y="485.8" font-size="8.6" text-anchor="middle" fill="#000" >0.6</text>
<text x="31.3" y="383.7" font-size="8.6" text-anchor="end" fill="#000" >0.0</text>
<text x="31.3" y="411.6" font-size="8.6" text-anchor="end" fill="#000" >-0.5</text>
<text x="31.3" y="439.6" font-size="8.6" text-anchor="end" fill="#000" >-1.0</text>
<text x="31.3" y="467.6" font-size="8.6" text-anchor="end" fill="#000" >-1.5</text>
<rect x="184.2" y="369.1" width="51.5" height="106.1" fill="#fff" stroke="#444" stroke-width="0.7" />
<line x1="106.8" y1="422.3" x2="180.1" y2="422.3" stroke="#20d8e8" stroke-width="0.8" stroke-dasharray="2 1.6" />
<line x1="180.1" y1="422.3" x2="235.7" y2="422.3" stroke="#3040ff" stroke-width="0.8" stroke-dasharray="2 1.6" />
<polygon points="106.8,419.3 107.5,421.3 109.7,421.4 108.0,422.7 108.6,424.7 106.8,423.6 105.0,424.7 105.6,422.7 103.9,421.4 106.1,421.3" stroke="none" stroke-width="1" fill="#20e0f0" />
<text x="109" y="364" font-size="11.8" text-anchor="middle">k<tspan font-size="6.5" dy="2.5">x</tspan><tspan dy="-2.5">=0, k</tspan><tspan font-size="6.5" dy="2.5">z</tspan><tspan dy="-2.5">=0 (132 eV)</tspan></text>
<text x="91.8" y="499.5" font-size="11.5">k<tspan font-size="6" dy="2" font-style="italic">//</tspan><tspan dy="-2"> (Å</tspan><tspan font-size="6.5" dy="-4">-1</tspan><tspan dy="4">)</tspan></text>
<use href="#img123" transform="translate(257.0,369.1)"/>
<rect x="257.0" y="369.1" width="145.6" height="106.1" fill="none" stroke="#444" stroke-width="0.7" />
<line x1="271.2" y1="475.2" x2="271.2" y2="478.2" stroke="#000" stroke-width="0.6" /><line x1="290.6" y1="475.2" x2="290.6" y2="478.2" stroke="#000" stroke-width="0.6" /><line x1="309.9" y1="475.2" x2="309.9" y2="478.2" stroke="#000" stroke-width="0.6" /><line x1="329.3" y1="475.2" x2="329.3" y2="478.2" stroke="#000" stroke-width="0.6" /><line x1="348.7" y1="475.2" x2="348.7" y2="478.2" stroke="#000" stroke-width="0.6" /><line x1="368.0" y1="475.2" x2="368.0" y2="478.2" stroke="#000" stroke-width="0.6" /><line x1="387.4" y1="475.2" x2="387.4" y2="478.2" stroke="#000" stroke-width="0.6" />
<line x1="256.7" y1="475.2" x2="256.7" y2="476.8" stroke="#000" stroke-width="0.5" /><line x1="261.6" y1="475.2" x2="261.6" y2="476.8" stroke="#000" stroke-width="0.5" /><line x1="266.4" y1="475.2" x2="266.4" y2="476.8" stroke="#000" stroke-width="0.5" /><line x1="276.1" y1="475.2" x2="276.1" y2="476.8" stroke="#000" stroke-width="0.5" /><line x1="280.9" y1="475.2" x2="280.9" y2="476.8" stroke="#000" stroke-width="0.5" /><line x1="285.8" y1="475.2" x2="285.8" y2="476.8" stroke="#000" stroke-width="0.5" /><line x1="295.4" y1="475.2" x2="295.4" y2="476.8" stroke="#000" stroke-width="0.5" /><line x1="300.3" y1="475.2" x2="300.3" y2="476.8" stroke="#000" stroke-width="0.5" /><line x1="305.1" y1="475.2" x2="305.1" y2="476.8" stroke="#000" stroke-width="0.5" /><line x1="314.8" y1="475.2" x2="314.8" y2="476.8" stroke="#000" stroke-width="0.5" /><line x1="319.6" y1="475.2" x2="319.6" y2="476.8" stroke="#000" stroke-width="0.5" /><line x1="324.5" y1="475.2" x2="324.5" y2="476.8" stroke="#000" stroke-width="0.5" /><line x1="334.1" y1="475.2" x2="334.1" y2="476.8" stroke="#000" stroke-width="0.5" /><line x1="339.0" y1="475.2" x2="339.0" y2="476.8" stroke="#000" stroke-width="0.5" /><line x1="343.8" y1="475.2" x2="343.8" y2="476.8" stroke="#000" stroke-width="0.5" /><line x1="353.5" y1="475.2" x2="353.5" y2="476.8" stroke="#000" stroke-width="0.5" /><line x1="358.3" y1="475.2" x2="358.3" y2="476.8" stroke="#000" stroke-width="0.5" /><line x1="363.2" y1="475.2" x2="363.2" y2="476.8" stroke="#000" stroke-width="0.5" /><line x1="372.8" y1="475.2" x2="372.8" y2="476.8" stroke="#000" stroke-width="0.5" /><line x1="377.7" y1="475.2" x2="377.7" y2="476.8" stroke="#000" stroke-width="0.5" /><line x1="382.5" y1="475.2" x2="382.5" y2="476.8" stroke="#000" stroke-width="0.5" /><line x1="392.2" y1="475.2" x2="392.2" y2="476.8" stroke="#000" stroke-width="0.5" /><line x1="397.0" y1="475.2" x2="397.0" y2="476.8" stroke="#000" stroke-width="0.5" /><line x1="401.9" y1="475.2" x2="401.9" y2="476.8" stroke="#000" stroke-width="0.5" />
<line x1="257.0" y1="380.5" x2="254.0" y2="380.5" stroke="#000" stroke-width="0.6" /><line x1="257.0" y1="408.4" x2="254.0" y2="408.4" stroke="#000" stroke-width="0.6" /><line x1="257.0" y1="436.4" x2="254.0" y2="436.4" stroke="#000" stroke-width="0.6" /><line x1="257.0" y1="464.4" x2="254.0" y2="464.4" stroke="#000" stroke-width="0.6" />
<line x1="257.0" y1="475.5" x2="255.5" y2="475.5" stroke="#000" stroke-width="0.5" /><line x1="257.0" y1="469.9" x2="255.5" y2="469.9" stroke="#000" stroke-width="0.5" /><line x1="257.0" y1="458.8" x2="255.5" y2="458.8" stroke="#000" stroke-width="0.5" /><line x1="257.0" y1="453.2" x2="255.5" y2="453.2" stroke="#000" stroke-width="0.5" /><line x1="257.0" y1="447.6" x2="255.5" y2="447.6" stroke="#000" stroke-width="0.5" /><line x1="257.0" y1="442.0" x2="255.5" y2="442.0" stroke="#000" stroke-width="0.5" /><line x1="257.0" y1="430.8" x2="255.5" y2="430.8" stroke="#000" stroke-width="0.5" /><line x1="257.0" y1="425.2" x2="255.5" y2="425.2" stroke="#000" stroke-width="0.5" /><line x1="257.0" y1="419.6" x2="255.5" y2="419.6" stroke="#000" stroke-width="0.5" /><line x1="257.0" y1="414.0" x2="255.5" y2="414.0" stroke="#000" stroke-width="0.5" /><line x1="257.0" y1="402.9" x2="255.5" y2="402.9" stroke="#000" stroke-width="0.5" /><line x1="257.0" y1="397.3" x2="255.5" y2="397.3" stroke="#000" stroke-width="0.5" /><line x1="257.0" y1="391.7" x2="255.5" y2="391.7" stroke="#000" stroke-width="0.5" /><line x1="257.0" y1="386.1" x2="255.5" y2="386.1" stroke="#000" stroke-width="0.5" /><line x1="257.0" y1="374.9" x2="255.5" y2="374.9" stroke="#000" stroke-width="0.5" /><line x1="257.0" y1="369.3" x2="255.5" y2="369.3" stroke="#000" stroke-width="0.5" />
<text x="270.4" y="485.8" font-size="8.6" text-anchor="middle" fill="#000" >-0.6</text>
<text x="289.8" y="485.8" font-size="8.6" text-anchor="middle" fill="#000" >-0.4</text>
<text x="309.1" y="485.8" font-size="8.6" text-anchor="middle" fill="#000" >-0.2</text>
<text x="329.3" y="485.8" font-size="8.6" text-anchor="middle" fill="#000" >0.0</text>
<text x="348.7" y="485.8" font-size="8.6" text-anchor="middle" fill="#000" >0.2</text>
<text x="368.0" y="485.8" font-size="8.6" text-anchor="middle" fill="#000" >0.4</text>
<text x="387.4" y="485.8" font-size="8.6" text-anchor="middle" fill="#000" >0.6</text>
<rect x="406.6" y="369.1" width="51.8" height="106.1" fill="#fff" stroke="#444" stroke-width="0.7" />
<line x1="329.3" y1="451.5" x2="402.6" y2="451.5" stroke="#20d8e8" stroke-width="0.8" stroke-dasharray="2 1.6" />
<line x1="402.6" y1="451.5" x2="459.9" y2="451.5" stroke="#3040ff" stroke-width="0.8" stroke-dasharray="2 1.6" />
<polygon points="329.3,448.5 330.0,450.5 332.2,450.6 330.5,451.9 331.1,453.9 329.3,452.8 327.5,453.9 328.1,451.9 326.4,450.6 328.6,450.5" stroke="none" stroke-width="1" fill="#20e0f0" />
<text x="333.4" y="364" font-size="11.8" text-anchor="middle">k<tspan font-size="6.5" dy="2.5">x</tspan><tspan dy="-2.5">=0, k</tspan><tspan font-size="6.5" dy="2.5">z</tspan><tspan dy="-2.5">=π/c (123 eV)</tspan></text>
<text x="314.3" y="499.5" font-size="11.5">k<tspan font-size="6" dy="2" font-style="italic">//</tspan><tspan dy="-2"> (Å</tspan><tspan font-size="6.5" dy="-4">-1</tspan><tspan dy="4">)</tspan></text>
<use href="#img114" transform="translate(479.3,369.1)"/>
<rect x="479.3" y="369.1" width="145.6" height="106.1" fill="none" stroke="#444" stroke-width="0.7" />
<line x1="493.6" y1="475.2" x2="493.6" y2="478.2" stroke="#000" stroke-width="0.6" /><line x1="512.9" y1="475.2" x2="512.9" y2="478.2" stroke="#000" stroke-width="0.6" /><line x1="532.2" y1="475.2" x2="532.2" y2="478.2" stroke="#000" stroke-width="0.6" /><line x1="551.6" y1="475.2" x2="551.6" y2="478.2" stroke="#000" stroke-width="0.6" /><line x1="571.0" y1="475.2" x2="571.0" y2="478.2" stroke="#000" stroke-width="0.6" /><line x1="590.3" y1="475.2" x2="590.3" y2="478.2" stroke="#000" stroke-width="0.6" /><line x1="609.6" y1="475.2" x2="609.6" y2="478.2" stroke="#000" stroke-width="0.6" />
<line x1="479.0" y1="475.2" x2="479.0" y2="476.8" stroke="#000" stroke-width="0.5" /><line x1="483.9" y1="475.2" x2="483.9" y2="476.8" stroke="#000" stroke-width="0.5" /><line x1="488.7" y1="475.2" x2="488.7" y2="476.8" stroke="#000" stroke-width="0.5" /><line x1="498.4" y1="475.2" x2="498.4" y2="476.8" stroke="#000" stroke-width="0.5" /><line x1="503.2" y1="475.2" x2="503.2" y2="476.8" stroke="#000" stroke-width="0.5" /><line x1="508.1" y1="475.2" x2="508.1" y2="476.8" stroke="#000" stroke-width="0.5" /><line x1="517.7" y1="475.2" x2="517.7" y2="476.8" stroke="#000" stroke-width="0.5" /><line x1="522.6" y1="475.2" x2="522.6" y2="476.8" stroke="#000" stroke-width="0.5" /><line x1="527.4" y1="475.2" x2="527.4" y2="476.8" stroke="#000" stroke-width="0.5" /><line x1="537.1" y1="475.2" x2="537.1" y2="476.8" stroke="#000" stroke-width="0.5" /><line x1="541.9" y1="475.2" x2="541.9" y2="476.8" stroke="#000" stroke-width="0.5" /><line x1="546.8" y1="475.2" x2="546.8" y2="476.8" stroke="#000" stroke-width="0.5" /><line x1="556.4" y1="475.2" x2="556.4" y2="476.8" stroke="#000" stroke-width="0.5" /><line x1="561.3" y1="475.2" x2="561.3" y2="476.8" stroke="#000" stroke-width="0.5" /><line x1="566.1" y1="475.2" x2="566.1" y2="476.8" stroke="#000" stroke-width="0.5" /><line x1="575.8" y1="475.2" x2="575.8" y2="476.8" stroke="#000" stroke-width="0.5" /><line x1="580.6" y1="475.2" x2="580.6" y2="476.8" stroke="#000" stroke-width="0.5" /><line x1="585.5" y1="475.2" x2="585.5" y2="476.8" stroke="#000" stroke-width="0.5" /><line x1="595.1" y1="475.2" x2="595.1" y2="476.8" stroke="#000" stroke-width="0.5" /><line x1="600.0" y1="475.2" x2="600.0" y2="476.8" stroke="#000" stroke-width="0.5" /><line x1="604.8" y1="475.2" x2="604.8" y2="476.8" stroke="#000" stroke-width="0.5" /><line x1="614.5" y1="475.2" x2="614.5" y2="476.8" stroke="#000" stroke-width="0.5" /><line x1="619.3" y1="475.2" x2="619.3" y2="476.8" stroke="#000" stroke-width="0.5" /><line x1="624.2" y1="475.2" x2="624.2" y2="476.8" stroke="#000" stroke-width="0.5" />
<line x1="479.3" y1="380.5" x2="476.3" y2="380.5" stroke="#000" stroke-width="0.6" /><line x1="479.3" y1="408.4" x2="476.3" y2="408.4" stroke="#000" stroke-width="0.6" /><line x1="479.3" y1="436.4" x2="476.3" y2="436.4" stroke="#000" stroke-width="0.6" /><line x1="479.3" y1="464.4" x2="476.3" y2="464.4" stroke="#000" stroke-width="0.6" />
<line x1="479.3" y1="475.5" x2="477.8" y2="475.5" stroke="#000" stroke-width="0.5" /><line x1="479.3" y1="469.9" x2="477.8" y2="469.9" stroke="#000" stroke-width="0.5" /><line x1="479.3" y1="458.8" x2="477.8" y2="458.8" stroke="#000" stroke-width="0.5" /><line x1="479.3" y1="453.2" x2="477.8" y2="453.2" stroke="#000" stroke-width="0.5" /><line x1="479.3" y1="447.6" x2="477.8" y2="447.6" stroke="#000" stroke-width="0.5" /><line x1="479.3" y1="442.0" x2="477.8" y2="442.0" stroke="#000" stroke-width="0.5" /><line x1="479.3" y1="430.8" x2="477.8" y2="430.8" stroke="#000" stroke-width="0.5" /><line x1="479.3" y1="425.2" x2="477.8" y2="425.2" stroke="#000" stroke-width="0.5" /><line x1="479.3" y1="419.6" x2="477.8" y2="419.6" stroke="#000" stroke-width="0.5" /><line x1="479.3" y1="414.0" x2="477.8" y2="414.0" stroke="#000" stroke-width="0.5" /><line x1="479.3" y1="402.9" x2="477.8" y2="402.9" stroke="#000" stroke-width="0.5" /><line x1="479.3" y1="397.3" x2="477.8" y2="397.3" stroke="#000" stroke-width="0.5" /><line x1="479.3" y1="391.7" x2="477.8" y2="391.7" stroke="#000" stroke-width="0.5" /><line x1="479.3" y1="386.1" x2="477.8" y2="386.1" stroke="#000" stroke-width="0.5" /><line x1="479.3" y1="374.9" x2="477.8" y2="374.9" stroke="#000" stroke-width="0.5" /><line x1="479.3" y1="369.3" x2="477.8" y2="369.3" stroke="#000" stroke-width="0.5" />
<text x="492.8" y="485.8" font-size="8.6" text-anchor="middle" fill="#000" >-0.6</text>
<text x="512.1" y="485.8" font-size="8.6" text-anchor="middle" fill="#000" >-0.4</text>
<text x="531.5" y="485.8" font-size="8.6" text-anchor="middle" fill="#000" >-0.2</text>
<text x="551.6" y="485.8" font-size="8.6" text-anchor="middle" fill="#000" >0.0</text>
<text x="571.0" y="485.8" font-size="8.6" text-anchor="middle" fill="#000" >0.2</text>
<text x="590.3" y="485.8" font-size="8.6" text-anchor="middle" fill="#000" >0.4</text>
<text x="609.6" y="485.8" font-size="8.6" text-anchor="middle" fill="#000" >0.6</text>
<rect x="628.8" y="369.1" width="51.8" height="106.1" fill="#fff" stroke="#444" stroke-width="0.7" />
<line x1="551.6" y1="457.8" x2="624.9" y2="457.8" stroke="#20d8e8" stroke-width="0.8" stroke-dasharray="2 1.6" />
<line x1="624.9" y1="457.8" x2="682.0" y2="457.8" stroke="#3040ff" stroke-width="0.8" stroke-dasharray="2 1.6" />
<polygon points="551.6,454.8 552.3,456.7 554.5,456.8 552.8,458.1 553.4,460.2 551.6,459.0 549.8,460.2 550.4,458.1 548.7,456.8 550.9,456.7" stroke="none" stroke-width="1" fill="#20e0f0" />
<text x="554" y="364" font-size="11.8" text-anchor="middle">k<tspan font-size="6.5" dy="2.5">x</tspan><tspan dy="-2.5">=0, k</tspan><tspan font-size="6.5" dy="2.5">z</tspan><tspan dy="-2.5">=2π/c (114 eV)</tspan></text>
<text x="536.6" y="499.5" font-size="11.5">k<tspan font-size="6" dy="2" font-style="italic">//</tspan><tspan dy="-2"> (Å</tspan><tspan font-size="6.5" dy="-4">-1</tspan><tspan dy="4">)</tspan></text>
<g clip-path="url(#cl_f0)">
<path d="M107.6,428.5 C108.5,428.0 111.4,427.1 113.3,425.5 C115.2,423.9 116.9,420.5 119.0,418.7 C121.1,416.9 122.5,415.6 125.9,414.8 C129.3,414.0 135.4,414.3 139.6,414.1 C143.8,413.9 147.9,414.0 151.0,413.4 C154.1,412.8 155.6,412.3 157.9,410.7 C160.2,409.1 162.4,406.9 164.7,403.8 C167.0,400.8 169.0,396.9 171.6,392.4 C174.2,387.9 179.0,379.6 180.5,377.0" stroke="#ff28d8" stroke-width="1.9000000000000001" fill="none" stroke-linejoin="round"/>
<path d="M112.5,473.0 C113.0,471.9 114.1,469.8 115.6,466.6 C117.1,463.4 119.2,458.4 121.3,454.0 C123.4,449.6 125.9,443.9 128.2,440.3 C130.5,436.7 132.7,434.2 135.0,432.4 C137.3,430.6 139.6,429.6 141.9,429.6 C144.2,429.6 146.4,430.2 148.7,432.4 C151.0,434.6 153.3,439.0 155.6,442.6 C157.9,446.2 159.7,450.2 162.4,454.0 C165.1,457.8 168.6,462.0 171.6,465.5 C174.6,469.0 179.0,473.4 180.5,475.0" stroke="#ff28d8" stroke-width="1.9000000000000001" fill="none" stroke-linejoin="round"/>
<path d="M107.1,462.3 C109.5,462.6 115.1,464.0 121.3,464.3 C127.5,464.6 138.1,463.7 144.2,464.3 C150.3,464.9 154.1,466.8 157.9,467.7 C161.7,468.6 163.2,469.8 167.0,469.6 C170.8,469.4 178.2,467.1 180.5,466.6" stroke="#ff28d8" stroke-width="1.6" fill="none" stroke-linejoin="round"/>
<path d="M107.1,466.7 C107.8,466.6 109.8,466.4 111.0,465.8 C112.2,465.2 113.9,463.8 114.5,463.4" stroke="#ff28d8" stroke-width="1.5" fill="none" stroke-linejoin="round"/>
<path d="M107.1,472.9 C108.0,472.3 110.7,469.1 112.5,469.4 C114.3,469.7 117.0,474.0 117.9,474.9" stroke="#ff28d8" stroke-width="1.6" fill="none" stroke-linejoin="round"/>
</g>
<g clip-path="url(#cl_f1)">
<path d="M329.6,451.8 C330.8,450.3 334.2,447.2 336.5,442.6 C338.8,438.0 341.0,430.5 343.3,424.4 C345.6,418.3 347.9,411.4 350.2,406.1 C352.5,400.8 354.7,395.5 357.0,392.4 C359.3,389.3 361.6,388.2 363.9,387.4 C366.2,386.6 368.0,386.4 370.7,387.4 C373.4,388.4 376.8,390.8 379.9,393.5 C382.9,396.2 386.0,400.0 389.0,403.8 C392.0,407.6 395.8,413.7 398.1,416.4 C400.4,419.1 402.2,419.4 403.0,420.0" stroke="#ff28d8" stroke-width="1.8" fill="none" stroke-linejoin="round"/>
<path d="M370.7,388.2 C372.2,389.3 376.8,391.9 379.9,394.8 C382.9,397.7 386.0,401.5 389.0,405.3 C392.0,409.1 395.8,415.1 398.1,417.8 C400.4,420.5 402.2,420.7 403.0,421.3" stroke="#ff28d8" stroke-width="1.3" fill="none" stroke-linejoin="round"/>
<path d="M330.8,465.5 C332.1,465.1 336.0,464.7 338.8,463.2 C341.6,461.7 345.2,458.4 347.9,456.3 C350.5,454.2 352.4,452.1 354.7,450.6 C357.0,449.2 358.9,448.2 361.6,447.6 C364.3,447.0 367.6,447.3 370.7,446.7 C373.8,446.1 376.8,445.1 379.9,443.8 C382.9,442.6 386.0,440.9 389.0,439.2 C392.0,437.5 395.8,434.9 398.1,433.5 C400.4,432.1 402.2,431.4 403.0,431.0" stroke="#ff28d8" stroke-width="1.7" fill="none" stroke-linejoin="round"/>
<path d="M347.9,455.2 C349.0,454.2 352.4,450.8 354.7,449.3 C357.0,447.8 358.9,447.0 361.6,446.4 C364.3,445.8 369.2,445.9 370.7,445.8" stroke="#ff28d8" stroke-width="1.2" fill="none" stroke-linejoin="round"/>
<path d="M330.8,467.7 C332.9,467.5 339.3,467.0 343.3,466.6 C347.3,466.2 350.1,465.9 354.7,465.5 C359.3,465.1 365.8,464.3 370.7,464.3 C375.6,464.3 379.0,464.7 384.4,465.5 C389.8,466.3 399.9,468.3 403.0,468.9" stroke="#ff28d8" stroke-width="1.6" fill="none" stroke-linejoin="round"/>
<path d="M369.6,369.2 C370.6,369.8 373.2,372.1 375.3,372.6 C377.4,373.1 380.2,372.9 382.1,372.3 C384.0,371.7 385.9,369.7 386.7,369.2" stroke="#ff28d8" stroke-width="1.2" fill="none" stroke-linejoin="round"/>
<path d="M368.6,369.2 C369.7,370.0 373.1,373.1 375.3,373.8 C377.6,374.5 380.0,374.3 382.1,373.5 C384.2,372.7 386.8,369.9 387.7,369.2" stroke="#ff28d8" stroke-width="1.2" fill="none" stroke-linejoin="round"/>
<path d="M330.8,474.3 L334.5,476" stroke="#ff28d8" stroke-width="1.6" fill="none" stroke-linejoin="round"/>
</g>
<g clip-path="url(#cl_f2)">
<path d="M552.8,468.9 L580.2,373" stroke="#ff28d8" stroke-width="1.6" fill="none" stroke-linejoin="round"/>
<path d="M580.2,373.0 C581.2,374.3 583.8,377.8 585.9,381.0 C588.0,384.2 590.6,389.4 592.7,392.4 C594.8,395.4 596.7,397.7 598.4,399.2 C600.1,400.7 601.3,401.7 603.0,401.5 C604.7,401.3 606.8,400.2 608.7,398.1 C610.6,396.0 612.7,391.9 614.4,389.0 C616.1,386.1 618.2,381.9 619.0,380.5" stroke="#ff28d8" stroke-width="1.7" fill="none" stroke-linejoin="round"/>
<path d="M581.2,373.0 C582.2,374.2 584.9,377.1 586.9,380.0 C588.9,382.9 591.2,387.7 593.2,390.6 C595.2,393.5 597.0,395.7 598.6,397.2 C600.2,398.7 601.4,399.7 603.0,399.5 C604.6,399.3 606.7,398.2 608.5,396.1 C610.3,394.0 612.2,389.9 614.0,387.0 C615.8,384.1 618.2,380.3 619.0,379.0" stroke="#ff28d8" stroke-width="1.3" fill="none" stroke-linejoin="round"/>
<path d="M583.6,369.2 C584.4,370.1 586.7,373.3 588.2,374.6 C589.7,375.9 590.4,376.8 592.7,376.9 C595.0,377.0 598.9,376.1 601.9,375.3 C604.9,374.5 608.1,373.1 611.0,372.3 C613.9,371.5 617.7,371.0 619.0,370.7" stroke="#ff28d8" stroke-width="1.3" fill="none" stroke-linejoin="round"/>
<path d="M582.6,369.2 C583.5,370.3 586.3,374.5 588.0,376.0 C589.7,377.5 590.4,378.3 592.7,378.4 C595.0,378.5 598.9,377.6 601.9,376.8 C604.9,376.0 608.1,374.5 611.0,373.8 C613.9,373.1 617.7,372.7 619.0,372.5" stroke="#ff28d8" stroke-width="1.3" fill="none" stroke-linejoin="round"/>
<path d="M552.8,468.9 C554.9,468.7 561.3,468.3 565.3,467.7 C569.3,467.1 572.9,466.6 576.7,465.5 C580.5,464.4 584.8,462.1 588.2,460.9 C591.6,459.7 594.3,458.4 597.3,458.2 C600.3,458.0 602.8,458.7 606.4,459.7 C610.0,460.7 616.9,463.5 619.0,464.3" stroke="#ff28d8" stroke-width="1.8" fill="none" stroke-linejoin="round"/>
<path d="M552.8,471.2 C554.1,470.8 557.9,470.4 560.8,468.9 C563.6,467.4 567.2,463.8 569.9,462.0 C572.5,460.2 574.4,458.9 576.7,458.2 C579.0,457.4 581.3,456.7 583.6,457.5 C585.9,458.3 588.1,460.7 590.4,463.2 C592.7,465.7 595.8,470.2 597.3,472.3 C598.8,474.4 599.1,475.4 599.5,476.0" stroke="#ff28d8" stroke-width="1.4000000000000001" fill="none" stroke-linejoin="round"/>
<path d="M565.3,465.5 C566.8,464.6 571.6,461.5 574.5,460.4 C577.4,459.3 580.1,458.7 582.4,459.1 C584.7,459.5 586.0,460.3 588.2,462.7 C590.4,465.1 594.0,471.3 595.5,473.5 C597.0,475.7 596.8,475.6 597.0,476.0" stroke="#ff28d8" stroke-width="1.3" fill="none" stroke-linejoin="round"/>
<path d="M552.8,472.3 L556.5,476" stroke="#ff28d8" stroke-width="1.6" fill="none" stroke-linejoin="round"/>
</g>
<path d="M185.6,369.6 C185.6,370.5 185.7,373.5 185.8,375.0 C185.9,376.5 185.2,377.7 186.2,378.8 C187.2,379.9 190.1,381.1 191.7,381.9 C193.3,382.7 194.6,382.9 196.0,383.6 C197.4,384.3 198.7,384.9 199.9,386.0 C201.1,387.1 201.6,388.5 203.0,390.0 C204.4,391.5 206.4,393.6 208.1,395.2 C209.8,396.8 211.8,398.1 213.2,399.3 C214.6,400.5 216.1,401.3 216.3,402.3 C216.5,403.3 214.2,403.9 214.4,405.4 C214.6,406.9 215.6,409.4 217.3,411.5 C219.0,413.6 222.4,416.2 224.5,417.7 C226.6,419.2 228.1,419.6 230.0,420.3 C231.9,421.1 235.7,421.5 235.7,422.2 C235.7,422.9 231.9,423.4 230.0,424.3 C228.1,425.2 226.3,425.6 224.5,427.3 C222.7,429.0 220.0,432.3 219.3,434.4 C218.7,436.5 220.3,438.3 220.6,440.0 C220.9,441.7 221.5,442.7 221.2,444.7 C220.9,446.7 219.4,449.6 218.6,452.0 C217.8,454.4 217.4,456.3 216.3,459.0 C215.2,461.7 213.4,465.6 212.2,468.2 C211.0,470.8 209.6,473.6 209.1,474.7" stroke="#2838ff" stroke-width="0.8" fill="none" stroke-linejoin="round"/>
<path d="M407.1,369.5 C407.1,370.2 407.2,372.5 407.3,374.0 C407.4,375.5 406.9,377.2 407.6,378.4 C408.3,379.6 409.3,380.2 411.6,381.1 C413.9,382.0 420.1,382.6 421.4,383.8 C422.7,384.9 419.0,386.6 419.6,388.2 C420.2,389.8 422.9,391.5 425.0,393.6 C427.1,395.7 430.5,398.3 432.1,400.7 C433.7,403.1 433.6,405.1 434.8,407.9 C436.0,410.7 439.5,415.2 439.3,417.7 C439.1,420.2 434.8,421.4 433.9,423.0 C433.0,424.6 433.6,425.5 434.2,427.0 C434.8,428.5 435.8,429.6 437.5,431.9 C439.2,434.2 442.7,438.3 444.6,440.8 C446.5,443.3 448.0,445.2 449.1,447.0 C450.2,448.8 451.1,450.0 451.2,451.5 C451.3,453.0 449.8,454.5 449.6,456.0 C449.4,457.5 450.4,458.5 450.0,460.4 C449.6,462.3 447.0,465.7 447.3,467.6 C447.6,469.5 451.4,470.8 451.8,472.0 C452.2,473.2 450.3,474.2 450.0,474.7" stroke="#2838ff" stroke-width="0.8" fill="none" stroke-linejoin="round"/>
<path d="M629.3,369.5 C629.3,370.4 629.3,373.2 629.4,375.0 C629.5,376.8 628.6,378.3 629.8,380.2 C631.0,382.1 635.1,384.9 636.4,386.4 C637.6,387.9 635.8,387.8 637.3,389.1 C638.8,390.5 642.6,392.4 645.4,394.5 C648.2,396.6 652.8,399.7 654.3,401.6 C655.8,403.5 654.8,404.4 654.6,406.0 C654.5,407.6 654.0,410.0 653.4,411.4 C652.8,412.8 651.5,413.3 650.7,414.5 C650.0,415.7 649.5,417.0 648.9,418.6 C648.3,420.2 647.2,422.1 647.1,423.9 C647.0,425.7 647.4,427.7 648.0,429.3 C648.6,430.9 648.8,431.4 650.7,433.6 C652.6,435.8 656.6,439.8 659.6,442.6 C662.6,445.4 666.4,448.1 668.6,450.6 C670.8,453.1 672.4,455.5 672.7,457.8 C673.0,460.0 672.1,462.4 670.4,464.0 C668.7,465.6 664.1,466.0 662.3,467.6 C660.4,469.2 659.8,472.8 659.3,473.8" stroke="#2838ff" stroke-width="0.8" fill="none" stroke-linejoin="round"/>
<circle cx="235.3" cy="422.3" r="1.3" fill="#2838ff"/>
<circle cx="450.6" cy="451.5" r="1.5" fill="#2838ff"/>
<text transform="translate(13.4,444.8) rotate(-90)" font-size="11.5">E-E<tspan font-size="6.5" dy="2.5">F</tspan><tspan dy="-2.5"> (eV)</tspan></text>
<text x="2.4" y="363.2" font-size="17" text-anchor="start" fill="#000" font-weight="bold" >f</text>
<use href="#img114d" transform="matrix(0.4354,-0.3091,0,1.1116,37.5,227.5)"/>
<polygon points="37.5,227.5 100.9,182.5 100.9,300.5 37.5,345.5" stroke="#222" stroke-width="0.5" fill="none" />
<text transform="matrix(1,-0.95,0,1,99.7,193.0)" font-size="9" font-weight="bold" font-style="italic" text-anchor="end" textLength="11" lengthAdjust="spacingAndGlyphs">114eV</text>
<use href="#img117d" transform="matrix(0.4451,-0.3091,0,1.1116,104.5,227.5)"/>
<polygon points="104.5,227.5 169.3,182.5 169.3,300.5 104.5,345.5" stroke="#222" stroke-width="0.5" fill="none" />
<text transform="matrix(1,-0.95,0,1,168.1,193.0)" font-size="9" font-weight="bold" font-style="italic" text-anchor="end" textLength="11" lengthAdjust="spacingAndGlyphs">117eV</text>
<use href="#img120d" transform="matrix(0.4217,-0.3091,0,1.1116,172.5,227.5)"/>
<polygon points="172.5,227.5 233.9,182.5 233.9,300.5 172.5,345.5" stroke="#222" stroke-width="0.5" fill="none" />
<text transform="matrix(1,-0.95,0,1,232.7,193.0)" font-size="9" font-weight="bold" font-style="italic" text-anchor="end" textLength="11" lengthAdjust="spacingAndGlyphs">120eV</text>
<use href="#img123d" transform="matrix(0.4320,-0.3091,0,1.1116,236.4,227.5)"/>
<polygon points="236.4,227.5 299.3,182.5 299.3,300.5 236.4,345.5" stroke="#222" stroke-width="0.5" fill="none" />
<text transform="matrix(1,-0.95,0,1,298.1,193.0)" font-size="9" font-weight="bold" font-style="italic" text-anchor="end" textLength="11" lengthAdjust="spacingAndGlyphs">123eV</text>
<use href="#img126d" transform="matrix(0.4389,-0.3091,0,1.1116,302.9,227.5)"/>
<polygon points="302.9,227.5 366.8,182.5 366.8,300.5 302.9,345.5" stroke="#222" stroke-width="0.5" fill="none" />
<text transform="matrix(1,-0.95,0,1,365.6,193.0)" font-size="9" font-weight="bold" font-style="italic" text-anchor="end" textLength="11" lengthAdjust="spacingAndGlyphs">126eV</text>
<use href="#img129d" transform="matrix(0.4389,-0.3091,0,1.1116,368.6,227.5)"/>
<polygon points="368.6,227.5 432.5,182.5 432.5,300.5 368.6,345.5" stroke="#222" stroke-width="0.5" fill="none" />
<text transform="matrix(1,-0.95,0,1,431.3,193.0)" font-size="9" font-weight="bold" font-style="italic" text-anchor="end" textLength="11" lengthAdjust="spacingAndGlyphs">129eV</text>
<use href="#img132d" transform="matrix(0.4368,-0.3091,0,1.1116,434.3,227.5)"/>
<polygon points="434.3,227.5 497.9,182.5 497.9,300.5 434.3,345.5" stroke="#222" stroke-width="0.5" fill="none" />
<text transform="matrix(1,-0.95,0,1,496.7,193.0)" font-size="9" font-weight="bold" font-style="italic" text-anchor="end" textLength="11" lengthAdjust="spacingAndGlyphs">132eV</text>
<line x1="37.5" y1="227.5" x2="37.5" y2="345.5" stroke="#000" stroke-width="0.7" />
<line x1="37.5" y1="240.5" x2="34.0" y2="240.5" stroke="#000" stroke-width="0.6" /><line x1="37.5" y1="271.4" x2="34.0" y2="271.4" stroke="#000" stroke-width="0.6" /><line x1="37.5" y1="302.3" x2="34.0" y2="302.3" stroke="#000" stroke-width="0.6" /><line x1="37.5" y1="333.2" x2="34.0" y2="333.2" stroke="#000" stroke-width="0.6" />
<line x1="37.5" y1="339.4" x2="35.7" y2="339.4" stroke="#000" stroke-width="0.5" /><line x1="37.5" y1="327.0" x2="35.7" y2="327.0" stroke="#000" stroke-width="0.5" /><line x1="37.5" y1="320.8" x2="35.7" y2="320.8" stroke="#000" stroke-width="0.5" /><line x1="37.5" y1="314.7" x2="35.7" y2="314.7" stroke="#000" stroke-width="0.5" /><line x1="37.5" y1="308.5" x2="35.7" y2="308.5" stroke="#000" stroke-width="0.5" /><line x1="37.5" y1="296.1" x2="35.7" y2="296.1" stroke="#000" stroke-width="0.5" /><line x1="37.5" y1="289.9" x2="35.7" y2="289.9" stroke="#000" stroke-width="0.5" /><line x1="37.5" y1="283.8" x2="35.7" y2="283.8" stroke="#000" stroke-width="0.5" /><line x1="37.5" y1="277.6" x2="35.7" y2="277.6" stroke="#000" stroke-width="0.5" /><line x1="37.5" y1="265.2" x2="35.7" y2="265.2" stroke="#000" stroke-width="0.5" /><line x1="37.5" y1="259.0" x2="35.7" y2="259.0" stroke="#000" stroke-width="0.5" /><line x1="37.5" y1="252.9" x2="35.7" y2="252.9" stroke="#000" stroke-width="0.5" /><line x1="37.5" y1="246.7" x2="35.7" y2="246.7" stroke="#000" stroke-width="0.5" /><line x1="37.5" y1="234.3" x2="35.7" y2="234.3" stroke="#000" stroke-width="0.5" /><line x1="37.5" y1="228.1" x2="35.7" y2="228.1" stroke="#000" stroke-width="0.5" />
<text x="32.5" y="243.4" font-size="8.3" text-anchor="end" fill="#000" >0.0</text>
<text x="32.5" y="274.3" font-size="8.3" text-anchor="end" fill="#000" >-0.5</text>
<text x="32.5" y="305.2" font-size="8.3" text-anchor="end" fill="#000" >-1.0</text>
<text x="32.5" y="336.1" font-size="8.3" text-anchor="end" fill="#000" >-1.5</text>
<text transform="translate(14.6,308.5) rotate(-90)" font-size="11.5">E-E<tspan font-size="6.5" dy="2.5">F</tspan><tspan dy="-2.5"> (eV)</tspan></text>
<text x="-0.8" y="188.2" font-size="17" text-anchor="start" fill="#000" font-weight="bold" >d</text>
<text x="30.0" y="220.0" font-size="12" text-anchor="start" fill="#000" >Σ</text>
<line x1="30.5" y1="208.6" x2="37.0" y2="208.6" stroke="#000" stroke-width="0.8" />
<text x="38.0" y="224.3" font-size="7.5" text-anchor="start" fill="#000" >x</text>
<text x="66.0" y="204.5" font-size="12" text-anchor="start" fill="#000" >Γ</text>
<line x1="65.5" y1="193.2" x2="72.5" y2="193.2" stroke="#000" stroke-width="0.8" />
<line x1="68.8" y1="312.7" x2="104.5" y2="312.9" stroke="#ff10d8" stroke-width="1.7" />
<line x1="104.5" y1="312.9" x2="136.6" y2="310.9" stroke="#ff10d8" stroke-width="0.5" />
<line x1="136.6" y1="310.9" x2="172.5" y2="307.7" stroke="#ff10d8" stroke-width="1.7" />
<line x1="172.5" y1="307.7" x2="202.9" y2="304.6" stroke="#ff10d8" stroke-width="0.5" />
<line x1="202.9" y1="304.6" x2="236.4" y2="300.4" stroke="#ff10d8" stroke-width="1.7" />
<line x1="236.4" y1="300.4" x2="268.9" y2="293.2" stroke="#ff10d8" stroke-width="0.5" />
<line x1="268.9" y1="293.2" x2="302.9" y2="289.6" stroke="#ff10d8" stroke-width="1.7" />
<line x1="302.9" y1="289.6" x2="335.4" y2="284.3" stroke="#ff10d8" stroke-width="0.5" />
<line x1="335.4" y1="284.3" x2="368.6" y2="280.0" stroke="#ff10d8" stroke-width="1.7" />
<line x1="368.6" y1="280.0" x2="400.4" y2="274.6" stroke="#ff10d8" stroke-width="0.5" />
<line x1="400.4" y1="274.6" x2="434.3" y2="271.8" stroke="#ff10d8" stroke-width="1.7" />
<g transform="matrix(-0.4354,0.3091,0,1.1116,100.46,182.81)" clip-path="url(#cl_half)">
<path d="M73.5,99.8 L100.9,3.9" stroke="#ff28d8" stroke-width="0.5" fill="none" vector-effect="non-scaling-stroke" stroke-opacity="0.85"/>
<path d="M100.9,3.9 C101.9,5.2 104.5,8.7 106.6,11.9 C108.7,15.1 111.3,20.3 113.4,23.3 C115.5,26.3 117.4,28.6 119.1,30.1 C120.8,31.6 122.0,32.6 123.7,32.4 C125.4,32.2 127.5,31.1 129.4,29.0 C131.3,26.9 133.4,22.8 135.1,19.9 C136.8,17.0 138.9,12.8 139.7,11.4" stroke="#ff28d8" stroke-width="0.5" fill="none" vector-effect="non-scaling-stroke" stroke-opacity="0.85"/>
<path d="M101.9,3.9 C102.9,5.1 105.6,8.0 107.6,10.9 C109.6,13.8 112.0,18.6 113.9,21.5 C115.9,24.4 117.7,26.6 119.3,28.1 C120.9,29.6 122.0,30.6 123.7,30.4 C125.3,30.2 127.4,29.1 129.2,27.0 C131.0,24.9 132.9,20.7 134.7,17.9 C136.4,15.0 138.9,11.2 139.7,9.9" stroke="#ff28d8" stroke-width="0.5" fill="none" vector-effect="non-scaling-stroke" stroke-opacity="0.85"/>
<path d="M104.3,0.1 C105.1,1.0 107.4,4.2 108.9,5.5 C110.4,6.8 111.1,7.7 113.4,7.8 C115.7,7.9 119.5,7.0 122.6,6.2 C125.6,5.4 128.8,4.0 131.7,3.2 C134.5,2.4 138.4,1.9 139.7,1.6" stroke="#ff28d8" stroke-width="0.5" fill="none" vector-effect="non-scaling-stroke" stroke-opacity="0.85"/>
<path d="M103.3,0.1 C104.2,1.2 107.0,5.4 108.7,6.9 C110.4,8.4 111.1,9.2 113.4,9.3 C115.7,9.4 119.5,8.5 122.6,7.7 C125.6,6.9 128.8,5.4 131.7,4.7 C134.5,4.0 138.4,3.6 139.7,3.4" stroke="#ff28d8" stroke-width="0.5" fill="none" vector-effect="non-scaling-stroke" stroke-opacity="0.85"/>
<path d="M73.5,99.8 C75.6,99.6 82.0,99.2 86.0,98.6 C90.0,98.0 93.6,97.5 97.4,96.4 C101.2,95.3 105.5,93.0 108.9,91.8 C112.3,90.6 115.0,89.3 118.0,89.1 C121.0,88.9 123.5,89.6 127.1,90.6 C130.7,91.6 137.6,94.4 139.7,95.2" stroke="#ff28d8" stroke-width="0.5" fill="none" vector-effect="non-scaling-stroke" stroke-opacity="0.85"/>
<path d="M73.5,102.1 C74.8,101.7 78.6,101.3 81.5,99.8 C84.3,98.3 87.9,94.7 90.6,92.9 C93.2,91.1 95.1,89.8 97.4,89.1 C99.7,88.3 102.0,87.6 104.3,88.4 C106.6,89.2 108.8,91.6 111.1,94.1 C113.4,96.6 116.5,101.1 118.0,103.2 C119.5,105.3 119.8,106.3 120.2,106.9" stroke="#ff28d8" stroke-width="0.5" fill="none" vector-effect="non-scaling-stroke" stroke-opacity="0.85"/>
<path d="M86.0,96.4 C87.5,95.5 92.3,92.4 95.2,91.3 C98.0,90.2 100.8,89.6 103.1,90.0 C105.4,90.4 106.7,91.2 108.9,93.6 C111.1,96.0 114.7,102.2 116.2,104.4 C117.7,106.6 117.4,106.5 117.7,106.9" stroke="#ff28d8" stroke-width="0.5" fill="none" vector-effect="non-scaling-stroke" stroke-opacity="0.85"/>
<path d="M73.5,103.2 L77.2,106.9" stroke="#ff28d8" stroke-width="0.5" fill="none" vector-effect="non-scaling-stroke" stroke-opacity="0.85"/>
</g>
<g transform="matrix(-0.4368,0.3091,0,1.1116,497.46,182.81)" clip-path="url(#cl_half)">
<path d="M73.1,59.4 C74.0,58.9 76.9,58.0 78.8,56.4 C80.7,54.8 82.4,51.4 84.5,49.6 C86.6,47.8 88.0,46.5 91.4,45.7 C94.8,44.9 100.9,45.2 105.1,45.0 C109.3,44.8 113.5,44.9 116.5,44.3 C119.5,43.7 121.1,43.2 123.4,41.6 C125.7,40.0 127.9,37.7 130.2,34.7 C132.5,31.6 134.5,27.8 137.1,23.3 C139.7,18.8 144.5,10.5 146.0,7.9" stroke="#ff28d8" stroke-width="0.5" fill="none" vector-effect="non-scaling-stroke" stroke-opacity="0.85"/>
<path d="M78.0,103.9 C78.5,102.8 79.6,100.7 81.1,97.5 C82.6,94.3 84.7,89.3 86.8,84.9 C88.9,80.5 91.4,74.8 93.7,71.2 C96.0,67.6 98.2,65.1 100.5,63.3 C102.8,61.5 105.1,60.5 107.4,60.5 C109.7,60.5 111.9,61.1 114.2,63.3 C116.5,65.5 118.8,69.9 121.1,73.5 C123.4,77.1 125.2,81.1 127.9,84.9 C130.6,88.7 134.1,92.9 137.1,96.4 C140.1,99.9 144.5,104.3 146.0,105.9" stroke="#ff28d8" stroke-width="0.5" fill="none" vector-effect="non-scaling-stroke" stroke-opacity="0.85"/>
<path d="M72.6,93.2 C75.0,93.5 80.6,94.9 86.8,95.2 C93.0,95.5 103.6,94.6 109.7,95.2 C115.8,95.8 119.6,97.7 123.4,98.6 C127.2,99.5 128.7,100.7 132.5,100.5 C136.3,100.3 143.8,98.0 146.0,97.5" stroke="#ff28d8" stroke-width="0.5" fill="none" vector-effect="non-scaling-stroke" stroke-opacity="0.85"/>
<path d="M72.6,97.6 C73.2,97.4 75.3,97.2 76.5,96.7 C77.7,96.1 79.4,94.7 80.0,94.3" stroke="#ff28d8" stroke-width="0.5" fill="none" vector-effect="non-scaling-stroke" stroke-opacity="0.85"/>
<path d="M72.6,103.8 C73.5,103.2 76.2,100.0 78.0,100.3 C79.8,100.6 82.5,104.9 83.4,105.8" stroke="#ff28d8" stroke-width="0.5" fill="none" vector-effect="non-scaling-stroke" stroke-opacity="0.85"/>
</g>
<g clip-path="url(#cl_e)"><g filter="url(#cme)"><rect x="524.5" y="191.8" width="128.0" height="136.2" fill="#fff" /><g filter="url(#b2)"><polygon points="606.6,205.7 614.3,212.3 622.9,228.0 631.4,250.9 640.0,273.7 647.1,288.0 654.3,296.6 654.3,315.1 642.9,308.0 634.3,296.6 625.7,279.4 617.1,256.6 610.0,233.7 604.3,216.6" fill="#000" fill-opacity="0.130"/><polygon points="549.4,205.7 541.7,212.3 533.1,228.0 524.6,250.9 516.0,273.7 508.9,288.0 501.7,296.6 501.7,315.1 513.1,308.0 521.7,296.6 530.3,279.4 538.9,256.6 546.0,233.7 551.7,216.6" fill="#000" fill-opacity="0.130"/><polygon points="605.7,208.0 610.9,230.9 612.0,246.6 605.7,256.6 596.6,265.7 589.4,262.9 593.1,245.1 602.9,216.6" fill="#000" fill-opacity="0.200"/><polygon points="550.3,208.0 545.1,230.9 544.0,246.6 550.3,256.6 559.4,265.7 566.6,262.9 562.9,245.1 553.1,216.6" fill="#000" fill-opacity="0.200"/><path d="M603.4,222.3 C604.7,226.8 608.3,241.7 610.9,249.4 C613.4,257.1 616.1,263.1 618.9,268.6 C621.6,274.0 624.5,278.3 627.4,282.3 C630.4,286.2 633.5,289.5 636.6,292.3 C639.6,295.0 642.8,297.3 645.7,298.9 C648.7,300.4 652.9,301.2 654.3,301.7" fill="none" stroke="#000" stroke-opacity="0.13" stroke-width="9" stroke-linecap="round" stroke-linejoin="round"/><path d="M552.6,222.3 C551.3,226.8 547.7,241.7 545.1,249.4 C542.6,257.1 539.9,263.1 537.1,268.6 C534.4,274.0 531.5,278.3 528.6,282.3 C525.6,286.2 522.5,289.5 519.4,292.3 C516.4,295.0 513.2,297.3 510.3,298.9 C507.3,300.4 503.1,301.2 501.7,301.7" fill="none" stroke="#000" stroke-opacity="0.13" stroke-width="9" stroke-linecap="round" stroke-linejoin="round"/><path d="M607.4,208.6 C606.3,212.5 603.1,225.1 600.9,232.0 C598.6,238.9 595.9,244.2 593.7,249.7 C591.6,255.2 589.0,262.6 588.0,265.1" fill="none" stroke="#000" stroke-opacity="0.12" stroke-width="5" stroke-linecap="round" stroke-linejoin="round"/><path d="M548.6,208.6 C549.7,212.5 552.9,225.1 555.1,232.0 C557.4,238.9 560.1,244.2 562.3,249.7 C564.4,255.2 567.0,262.6 568.0,265.1" fill="none" stroke="#000" stroke-opacity="0.12" stroke-width="5" stroke-linecap="round" stroke-linejoin="round"/><polygon points="548.6,206.9 542.9,189.7 554.3,189.7" fill="#000" fill-opacity="0.120"/><polygon points="606.6,206.9 600.9,189.7 612.3,189.7" fill="#000" fill-opacity="0.120"/></g><g filter="url(#b1_2)"><polygon points="606.3,207.4 599.7,232.0 592.6,249.7 578.0,291.4 578.0,258.0 588.6,242.3 597.7,225.1 602.9,215.1" fill="#000" fill-opacity="0.240"/><polygon points="549.7,207.4 556.3,232.0 563.4,249.7 578.0,291.4 578.0,258.0 567.4,242.3 558.3,225.1 553.1,215.1" fill="#000" fill-opacity="0.240"/><polygon points="578.0,290.9 562.9,313.7 547.1,328.6 571.4,328.6 578.0,302.9 584.3,328.6 609.1,328.6 593.7,313.7" fill="#000" fill-opacity="0.260"/><polygon points="524.0,313.7 537.1,316.0 551.4,311.4 565.7,302.3 578.0,291.4 568.6,305.1 554.3,318.0 537.1,323.7 524.0,322.3" fill="#000" fill-opacity="0.120"/><polygon points="632.0,313.7 618.9,316.0 604.6,311.4 590.3,302.3 578.0,291.4 587.4,305.1 601.7,318.0 618.9,323.7 632.0,322.3" fill="#000" fill-opacity="0.100"/><polygon points="614.3,313.7 634.3,316.0 654.3,315.1 654.3,320.9 634.3,320.0 617.1,318.0" fill="#000" fill-opacity="0.100"/></g><g filter="url(#b1)"><path d="M605.7,209.4 C604.6,213.2 601.4,225.3 599.1,232.0 C596.9,238.7 595.5,239.8 592.0,249.7 C588.5,259.6 580.3,284.5 578.0,291.4" fill="none" stroke="#000" stroke-opacity="0.35" stroke-width="2.2" stroke-linecap="round" stroke-linejoin="round"/><path d="M550.3,209.4 C551.4,213.2 554.6,225.3 556.9,232.0 C559.1,238.7 560.5,239.8 564.0,249.7 C567.5,259.6 575.7,284.5 578.0,291.4" fill="none" stroke="#000" stroke-opacity="0.35" stroke-width="2.2" stroke-linecap="round" stroke-linejoin="round"/><path d="M587.1,263.7 L578.0,290.9 L568.9,263.7" fill="none" stroke="#000" stroke-opacity="0.35" stroke-width="2.5" stroke-linecap="round" stroke-linejoin="round"/><ellipse cx="578.0" cy="291.4" rx="5.0" ry="3.5" fill="#000" fill-opacity="0.700"/><path d="M578.0,291.4 C576.2,294.2 571.1,303.0 567.1,308.0 C563.2,313.0 557.8,318.3 554.3,321.7 C550.8,325.1 547.6,327.4 546.3,328.6" fill="none" stroke="#000" stroke-opacity="0.4" stroke-width="2.2" stroke-linecap="round" stroke-linejoin="round"/><path d="M578.0,291.4 C579.8,294.2 584.9,303.0 588.9,308.0 C592.8,313.0 598.2,318.3 601.7,321.7 C605.2,325.1 608.4,327.4 609.7,328.6" fill="none" stroke="#000" stroke-opacity="0.4" stroke-width="2.2" stroke-linecap="round" stroke-linejoin="round"/><ellipse cx="562.9" cy="325.1" rx="7.0" ry="3.0" fill="#000" fill-opacity="0.450"/><ellipse cx="593.7" cy="325.1" rx="7.0" ry="3.0" fill="#000" fill-opacity="0.400"/></g></g></g>
<g clip-path="url(#cl_e)"><path d="M578.0,233.1 C579.0,233.6 582.5,236.1 584.3,235.7 C586.0,235.3 587.1,233.1 588.6,230.9 C590.0,228.6 591.2,225.1 592.9,222.3 C594.5,219.4 596.8,216.1 598.6,213.7 C600.3,211.3 602.1,209.3 603.4,208.0 C604.8,206.7 605.3,205.7 606.6,205.7 C607.8,205.7 609.6,206.9 610.9,208.0 C612.1,209.1 612.3,209.0 614.3,212.3 C616.3,215.6 620.0,221.6 622.9,228.0 C625.7,234.4 628.6,243.2 631.4,250.9 C634.3,258.5 637.4,267.5 640.0,273.7 C642.6,279.9 644.8,284.3 647.1,288.0 C649.5,291.7 653.1,294.7 654.3,296.0" fill="none" stroke="#33260a" stroke-opacity="0.9" stroke-width="0.75" stroke-linejoin="round"/><path d="M578.0,233.1 C577.0,233.6 573.5,236.1 571.7,235.7 C570.0,235.3 568.9,233.1 567.4,230.9 C566.0,228.6 564.8,225.1 563.1,222.3 C561.5,219.4 559.2,216.1 557.4,213.7 C555.7,211.3 553.9,209.3 552.6,208.0 C551.2,206.7 550.7,205.7 549.4,205.7 C548.2,205.7 546.4,206.9 545.1,208.0 C543.9,209.1 543.7,209.0 541.7,212.3 C539.7,215.6 536.0,221.6 533.1,228.0 C530.3,234.4 527.4,243.2 524.6,250.9 C521.7,258.5 518.6,267.5 516.0,273.7 C513.4,279.9 511.2,284.3 508.9,288.0 C506.5,291.7 502.9,294.7 501.7,296.0" fill="none" stroke="#33260a" stroke-opacity="0.9" stroke-width="0.75" stroke-linejoin="round"/><path d="M578.0,234.6 C579.0,235.0 582.5,237.5 584.3,237.1 C586.0,236.8 587.1,234.5 588.6,232.3 C590.0,230.0 591.2,226.6 592.9,223.7 C594.5,220.9 596.8,217.5 598.6,215.1 C600.3,212.8 602.1,210.8 603.4,209.4 C604.8,208.1 606.0,207.5 606.6,207.1 C607.1,206.8 605.5,206.3 606.6,207.4 C607.6,208.5 610.4,209.8 612.9,213.7 C615.3,217.6 618.6,224.2 621.4,230.9 C624.3,237.5 627.1,246.1 630.0,253.7 C632.9,261.3 635.9,270.3 638.6,276.6 C641.3,282.9 643.7,287.6 646.3,291.4 C648.9,295.2 653.0,298.1 654.3,299.4" fill="none" stroke="#33260a" stroke-opacity="0.9" stroke-width="0.75" stroke-linejoin="round"/><path d="M578.0,234.6 C577.0,235.0 573.5,237.5 571.7,237.1 C570.0,236.8 568.9,234.5 567.4,232.3 C566.0,230.0 564.8,226.6 563.1,223.7 C561.5,220.9 559.2,217.5 557.4,215.1 C555.7,212.8 553.9,210.8 552.6,209.4 C551.2,208.1 550.0,207.5 549.4,207.1 C548.9,206.8 550.5,206.3 549.4,207.4 C548.4,208.5 545.6,209.8 543.1,213.7 C540.7,217.6 537.4,224.2 534.6,230.9 C531.7,237.5 528.9,246.1 526.0,253.7 C523.1,261.3 520.1,270.3 517.4,276.6 C514.7,282.9 512.3,287.6 509.7,291.4 C507.1,295.2 503.0,298.1 501.7,299.4" fill="none" stroke="#33260a" stroke-opacity="0.9" stroke-width="0.75" stroke-linejoin="round"/><path d="M605.7,209.4 C604.6,213.2 601.4,225.3 599.1,232.0 C596.9,238.7 595.5,239.8 592.0,249.7 C588.5,259.6 580.3,284.5 578.0,291.4" fill="none" stroke="#33260a" stroke-opacity="1" stroke-width="0.9500000000000001" stroke-linejoin="round"/><path d="M550.3,209.4 C551.4,213.2 554.6,225.3 556.9,232.0 C559.1,238.7 560.5,239.8 564.0,249.7 C567.5,259.6 575.7,284.5 578.0,291.4" fill="none" stroke="#33260a" stroke-opacity="1" stroke-width="0.9500000000000001" stroke-linejoin="round"/><path d="M578.0,256.6 C579.8,253.6 585.4,244.3 588.6,238.9 C591.8,233.4 594.9,227.2 597.1,223.7 C599.4,220.2 600.6,216.8 602.1,217.8 C603.6,218.8 604.1,224.8 606.1,229.9 C608.1,235.0 611.4,242.4 614.1,248.6 C616.8,254.8 619.5,262.0 622.2,267.4 C624.9,272.8 627.5,277.0 630.2,280.8 C632.9,284.6 635.6,287.5 638.3,290.2 C641.0,292.9 643.6,295.3 646.3,296.9 C649.0,298.5 653.0,299.5 654.3,300.0" fill="none" stroke="#33260a" stroke-opacity="0.9" stroke-width="0.75" stroke-linejoin="round"/><path d="M578.0,256.6 C576.2,253.6 570.6,244.3 567.4,238.9 C564.2,233.4 561.1,227.2 558.9,223.7 C556.6,220.2 555.4,216.8 553.9,217.8 C552.4,218.8 551.9,224.8 549.9,229.9 C547.9,235.0 544.6,242.4 541.9,248.6 C539.2,254.8 536.5,262.0 533.8,267.4 C531.1,272.8 528.5,277.0 525.8,280.8 C523.1,284.6 520.4,287.5 517.7,290.2 C515.0,292.9 512.4,295.3 509.7,296.9 C507.0,298.5 503.0,299.5 501.7,300.0" fill="none" stroke="#33260a" stroke-opacity="0.9" stroke-width="0.75" stroke-linejoin="round"/><path d="M565.7,260.9 C565.4,261.6 565.1,263.0 563.9,265.3 C562.8,267.6 561.0,270.6 558.8,274.5 C556.6,278.4 553.7,284.1 550.7,288.8 C547.6,293.6 543.8,299.1 540.4,303.1 C537.0,307.2 533.0,310.9 530.2,313.3 C527.5,315.8 525.0,317.0 524.0,317.7" fill="none" stroke="#33260a" stroke-opacity="0.9" stroke-width="0.75" stroke-linejoin="round"/><path d="M590.3,260.9 C590.6,261.6 590.9,263.0 592.1,265.3 C593.2,267.6 595.0,270.6 597.2,274.5 C599.4,278.4 602.3,284.1 605.3,288.8 C608.4,293.6 612.2,299.1 615.6,303.1 C619.0,307.2 623.0,310.9 625.8,313.3 C628.5,315.8 631.0,317.0 632.0,317.7" fill="none" stroke="#33260a" stroke-opacity="0.9" stroke-width="0.75" stroke-linejoin="round"/><path d="M616.0,305.1 C617.7,306.7 622.5,312.2 626.3,314.4 C630.0,316.6 633.9,317.6 638.5,318.5 C643.2,319.3 651.7,319.5 654.3,319.7" fill="none" stroke="#33260a" stroke-opacity="0.9" stroke-width="0.75" stroke-linejoin="round"/><path d="M603.1,222.3 C603.8,224.3 605.1,229.2 607.1,234.3 C609.1,239.4 612.5,246.7 615.1,252.9 C617.8,259.0 620.5,266.2 623.1,271.4 C625.8,276.7 628.5,280.7 631.1,284.3 C633.8,287.9 636.5,290.6 639.1,293.1 C641.8,295.7 644.6,297.9 647.1,299.4 C649.7,301.0 653.1,302.0 654.3,302.6" fill="none" stroke="#33260a" stroke-opacity="0.7" stroke-width="0.75" stroke-linejoin="round"/><path d="M552.9,222.3 C552.2,224.3 550.9,229.2 548.9,234.3 C546.9,239.4 543.5,246.7 540.9,252.9 C538.2,259.0 535.5,266.2 532.9,271.4 C530.2,276.7 527.5,280.7 524.9,284.3 C522.2,287.9 519.5,290.6 516.9,293.1 C514.2,295.7 511.4,297.9 508.9,299.4 C506.3,301.0 502.9,302.0 501.7,302.6" fill="none" stroke="#33260a" stroke-opacity="0.7" stroke-width="0.75" stroke-linejoin="round"/><path d="M524.0,313.7 C526.2,314.1 532.6,316.4 537.1,316.0 C541.7,315.6 546.7,313.7 551.4,311.4 C556.2,309.1 561.3,305.5 565.7,302.3 C570.1,299.1 576.0,294.0 578.0,292.3" fill="none" stroke="#33260a" stroke-opacity="0.9" stroke-width="0.75" stroke-linejoin="round"/><path d="M632.0,313.7 C629.8,314.1 623.4,316.4 618.9,316.0 C614.3,315.6 609.3,313.7 604.6,311.4 C599.8,309.1 594.7,305.5 590.3,302.3 C585.9,299.1 580.0,294.0 578.0,292.3" fill="none" stroke="#33260a" stroke-opacity="0.9" stroke-width="0.75" stroke-linejoin="round"/><path d="M524.0,322.3 C526.7,322.5 534.7,324.3 540.0,323.4 C545.3,322.6 551.0,320.2 555.7,317.1 C560.5,314.1 565.1,309.0 568.6,305.1 C572.0,301.3 575.2,296.1 576.6,294.3" fill="none" stroke="#33260a" stroke-opacity="0.9" stroke-width="0.75" stroke-linejoin="round"/><path d="M632.0,322.3 C629.3,322.5 621.3,324.3 616.0,323.4 C610.7,322.6 605.0,320.2 600.3,317.1 C595.5,314.1 590.9,309.0 587.4,305.1 C584.0,301.3 580.8,296.1 579.4,294.3" fill="none" stroke="#33260a" stroke-opacity="0.9" stroke-width="0.75" stroke-linejoin="round"/><path d="M578.0,302.3 C577.4,304.2 575.5,309.3 574.3,313.7 C573.1,318.1 571.4,326.1 570.9,328.6" fill="none" stroke="#33260a" stroke-opacity="0.9" stroke-width="0.75" stroke-linejoin="round"/><path d="M578.0,302.3 C578.6,304.2 580.5,309.3 581.7,313.7 C582.9,318.1 584.6,326.1 585.1,328.6" fill="none" stroke="#33260a" stroke-opacity="0.9" stroke-width="0.75" stroke-linejoin="round"/><path d="M654.3,315.7 C651.0,315.7 640.0,316.2 634.3,315.4 C628.6,314.6 624.8,313.4 620.0,310.9 C615.2,308.3 610.2,304.0 605.7,300.0 C601.2,296.0 595.0,288.8 592.9,286.6" fill="none" stroke="#33260a" stroke-opacity="0.9" stroke-width="0.75" stroke-linejoin="round"/><path d="M654.3,318.9 C651.0,319.0 640.2,319.9 634.3,319.4 C628.3,319.0 621.2,316.6 618.6,316.0" fill="none" stroke="#33260a" stroke-opacity="0.9" stroke-width="0.75" stroke-linejoin="round"/><path d="M524.0,273.7 C525.7,273.2 530.9,273.2 534.3,270.9 C537.7,268.5 541.4,264.2 544.3,259.4 C547.1,254.7 549.7,248.5 551.4,242.3 C553.2,236.1 554.3,225.6 554.9,222.3" fill="none" stroke="#33260a" stroke-opacity="0.7999999999999999" stroke-width="0.75" stroke-linejoin="round"/><path d="M524.0,279.4 C526.0,278.7 532.0,277.9 535.7,275.1 C539.4,272.4 543.4,267.9 546.3,262.9 C549.2,257.9 551.4,251.2 553.1,245.1 C554.9,239.1 556.0,229.7 556.6,226.6" fill="none" stroke="#33260a" stroke-opacity="0.7999999999999999" stroke-width="0.75" stroke-linejoin="round"/></g>
<rect x="524.5" y="191.8" width="128.0" height="136.2" fill="none" stroke="#444" stroke-width="0.7" />
<line x1="524.5" y1="204.3" x2="652.5" y2="204.3" stroke="#000" stroke-width="0.7" stroke-dasharray="2.5 1.8" />
<line x1="652.5" y1="204.3" x2="655.5" y2="204.3" stroke="#000" stroke-width="0.6" /><line x1="652.5" y1="235.2" x2="655.5" y2="235.2" stroke="#000" stroke-width="0.6" /><line x1="652.5" y1="266.2" x2="655.5" y2="266.2" stroke="#000" stroke-width="0.6" /><line x1="652.5" y1="297.1" x2="655.5" y2="297.1" stroke="#000" stroke-width="0.6" /><line x1="652.5" y1="328.0" x2="655.5" y2="328.0" stroke="#000" stroke-width="0.6" />
<line x1="652.5" y1="198.1" x2="654.1" y2="198.1" stroke="#000" stroke-width="0.5" /><line x1="652.5" y1="210.5" x2="654.1" y2="210.5" stroke="#000" stroke-width="0.5" /><line x1="652.5" y1="216.7" x2="654.1" y2="216.7" stroke="#000" stroke-width="0.5" /><line x1="652.5" y1="222.9" x2="654.1" y2="222.9" stroke="#000" stroke-width="0.5" /><line x1="652.5" y1="229.0" x2="654.1" y2="229.0" stroke="#000" stroke-width="0.5" /><line x1="652.5" y1="241.4" x2="654.1" y2="241.4" stroke="#000" stroke-width="0.5" /><line x1="652.5" y1="247.6" x2="654.1" y2="247.6" stroke="#000" stroke-width="0.5" /><line x1="652.5" y1="253.8" x2="654.1" y2="253.8" stroke="#000" stroke-width="0.5" /><line x1="652.5" y1="260.0" x2="654.1" y2="260.0" stroke="#000" stroke-width="0.5" /><line x1="652.5" y1="272.3" x2="654.1" y2="272.3" stroke="#000" stroke-width="0.5" /><line x1="652.5" y1="278.5" x2="654.1" y2="278.5" stroke="#000" stroke-width="0.5" /><line x1="652.5" y1="284.7" x2="654.1" y2="284.7" stroke="#000" stroke-width="0.5" /><line x1="652.5" y1="290.9" x2="654.1" y2="290.9" stroke="#000" stroke-width="0.5" /><line x1="652.5" y1="303.3" x2="654.1" y2="303.3" stroke="#000" stroke-width="0.5" /><line x1="652.5" y1="309.4" x2="654.1" y2="309.4" stroke="#000" stroke-width="0.5" /><line x1="652.5" y1="315.6" x2="654.1" y2="315.6" stroke="#000" stroke-width="0.5" /><line x1="652.5" y1="321.8" x2="654.1" y2="321.8" stroke="#000" stroke-width="0.5" />
<line x1="542.2" y1="328.0" x2="542.2" y2="331.0" stroke="#000" stroke-width="0.6" /><line x1="577.5" y1="328.0" x2="577.5" y2="331.0" stroke="#000" stroke-width="0.6" /><line x1="612.8" y1="328.0" x2="612.8" y2="331.0" stroke="#000" stroke-width="0.6" /><line x1="648.0" y1="328.0" x2="648.0" y2="331.0" stroke="#000" stroke-width="0.6" />
<line x1="528.1" y1="328.0" x2="528.1" y2="329.6" stroke="#000" stroke-width="0.5" /><line x1="535.2" y1="328.0" x2="535.2" y2="329.6" stroke="#000" stroke-width="0.5" /><line x1="549.3" y1="328.0" x2="549.3" y2="329.6" stroke="#000" stroke-width="0.5" /><line x1="556.4" y1="328.0" x2="556.4" y2="329.6" stroke="#000" stroke-width="0.5" /><line x1="563.4" y1="328.0" x2="563.4" y2="329.6" stroke="#000" stroke-width="0.5" /><line x1="570.5" y1="328.0" x2="570.5" y2="329.6" stroke="#000" stroke-width="0.5" /><line x1="584.5" y1="328.0" x2="584.5" y2="329.6" stroke="#000" stroke-width="0.5" /><line x1="591.6" y1="328.0" x2="591.6" y2="329.6" stroke="#000" stroke-width="0.5" /><line x1="598.6" y1="328.0" x2="598.6" y2="329.6" stroke="#000" stroke-width="0.5" /><line x1="605.7" y1="328.0" x2="605.7" y2="329.6" stroke="#000" stroke-width="0.5" /><line x1="619.8" y1="328.0" x2="619.8" y2="329.6" stroke="#000" stroke-width="0.5" /><line x1="626.9" y1="328.0" x2="626.9" y2="329.6" stroke="#000" stroke-width="0.5" /><line x1="633.9" y1="328.0" x2="633.9" y2="329.6" stroke="#000" stroke-width="0.5" /><line x1="641.0" y1="328.0" x2="641.0" y2="329.6" stroke="#000" stroke-width="0.5" />
<text x="656.5" y="207.2" font-size="8.3" text-anchor="start" fill="#000" >0.0</text>
<text x="656.5" y="238.1" font-size="8.3" text-anchor="start" fill="#000" >-0.5</text>
<text x="656.5" y="269.1" font-size="8.3" text-anchor="start" fill="#000" >-1.0</text>
<text x="656.5" y="300.0" font-size="8.3" text-anchor="start" fill="#000" >-1.5</text>
<text x="656.5" y="330.9" font-size="8.3" text-anchor="start" fill="#000" >-2.0</text>
<text x="542.2" y="339.5" font-size="8.3" text-anchor="middle" fill="#000" >-0.5</text>
<text x="577.5" y="339.5" font-size="8.3" text-anchor="middle" fill="#000" >0.0</text>
<text x="612.8" y="339.5" font-size="8.3" text-anchor="middle" fill="#000" >0.5</text>
<text x="648.0" y="339.5" font-size="8.3" text-anchor="middle" fill="#000" >1.0</text>
<text x="578.0" y="190.3" font-size="13.5" text-anchor="middle" fill="#000" >Γ</text>
<line x1="573.8" y1="178.2" x2="581.6" y2="178.2" stroke="#000" stroke-width="0.9" />
<text x="652.0" y="190.3" font-size="13.5" text-anchor="middle" fill="#000" >X</text>
<line x1="647.5" y1="178.2" x2="656.5" y2="178.2" stroke="#000" stroke-width="0.9" />
<text x="566" y="349" font-size="11.5">k<tspan font-size="6" dy="2" font-style="italic">//</tspan><tspan dy="-2"> (Å</tspan><tspan font-size="6.5" dy="-4">-1</tspan><tspan dy="4">)</tspan></text>
<text transform="translate(675.5,231) rotate(90)" font-size="11.5">E-E<tspan font-size="6.5" dy="2.5">F</tspan><tspan dy="-2.5"> (eV)</tspan></text>
<text x="509.6" y="188.2" font-size="17" text-anchor="start" fill="#000" font-weight="bold" >e</text>
<rect x="634.6" y="231.6" width="6.4" height="15.9" fill="url(#cbg)" />
<text x="638.5" y="217.8" font-size="9" text-anchor="middle" fill="#000" >I(k, ω)</text>
<text x="638.0" y="228.8" font-size="9" text-anchor="middle" fill="#000" >High</text>
<text x="638.0" y="256.0" font-size="9" text-anchor="middle" fill="#000" >Low</text>
</svg>
</body></html>
